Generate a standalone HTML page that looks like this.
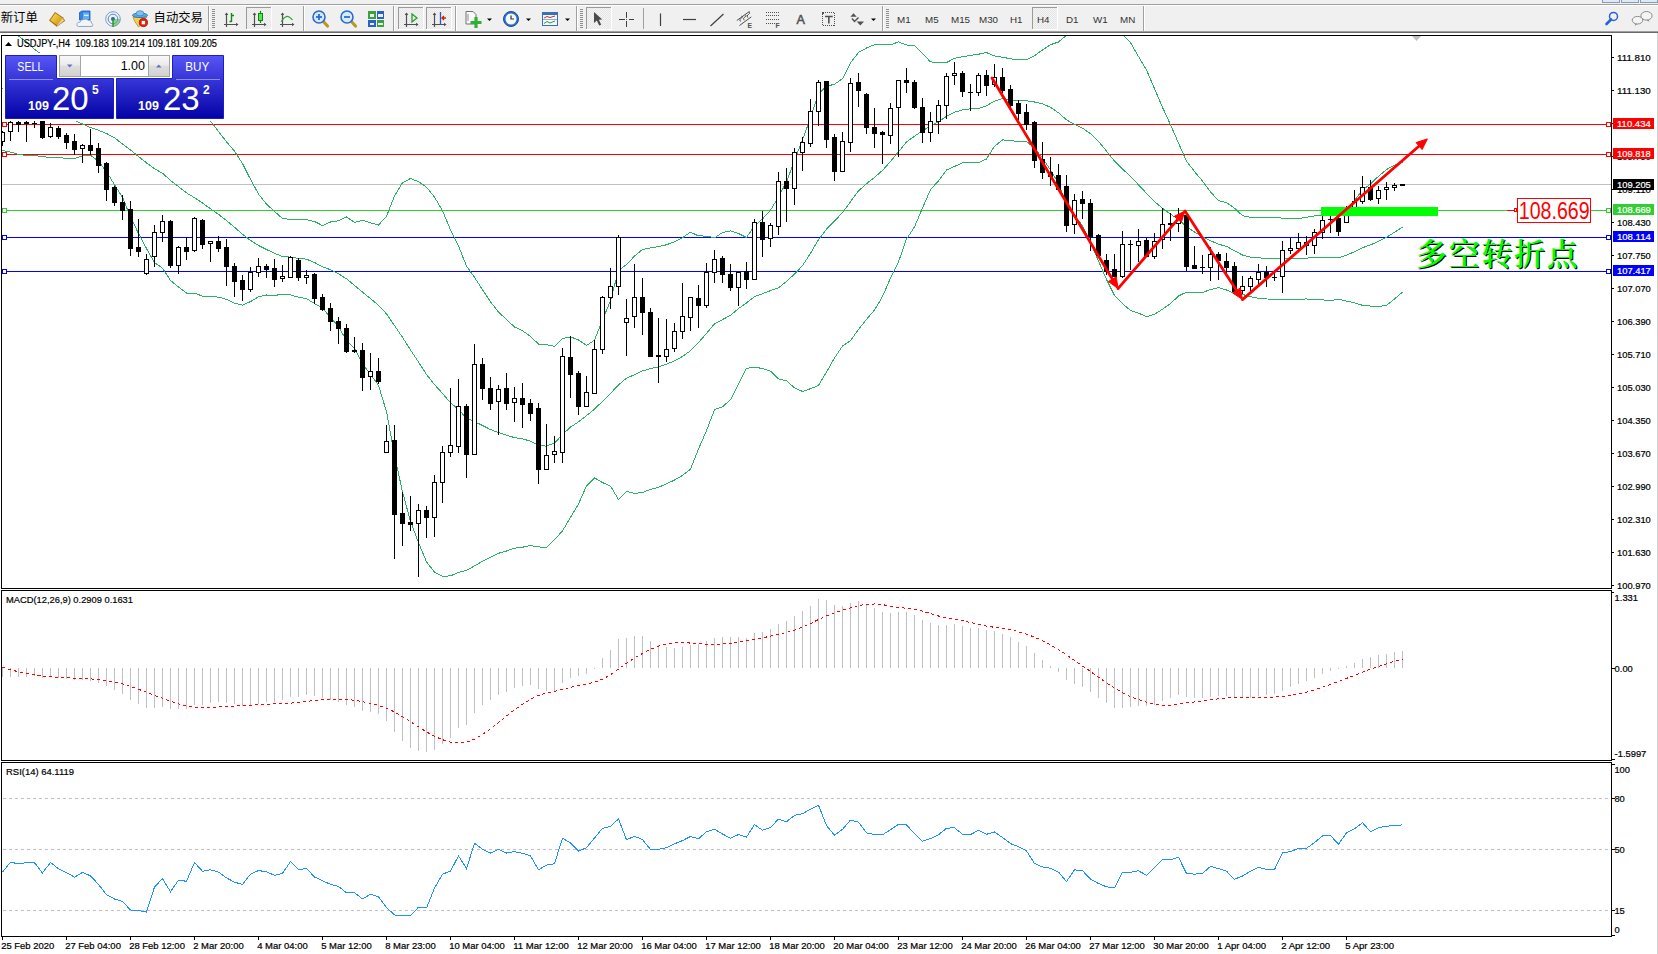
<!DOCTYPE html>
<html><head><meta charset="utf-8"><title>USDJPY,H4</title><style>html,body{margin:0;padding:0;background:#fff;overflow:hidden;width:1658px;height:954px}svg{display:block;position:absolute;left:0;top:0}text{white-space:pre}</style></head><body>
<svg width="1658" height="954" viewBox="0 0 1658 954">
<defs><linearGradient id="gb" x1="0" y1="0" x2="0" y2="1"><stop offset="0" stop-color="#5656f6"/><stop offset="1" stop-color="#0202a6"/></linearGradient><linearGradient id="gbtn" x1="0" y1="0" x2="0" y2="1"><stop offset="0" stop-color="#f8f8f8"/><stop offset="0.45" stop-color="#ebebeb"/><stop offset="0.5" stop-color="#dddddd"/><stop offset="1" stop-color="#d2d2d2"/></linearGradient><pattern id="dith" width="2" height="2" patternUnits="userSpaceOnUse"><rect width="2" height="2" fill="#f4f4f4"/><rect width="1" height="1" fill="#e6e6e6"/><rect x="1" y="1" width="1" height="1" fill="#e6e6e6"/></pattern><clipPath id="cm"><rect x="2" y="36" width="1609" height="552"/></clipPath><clipPath id="cmacd"><rect x="2" y="591" width="1609" height="169"/></clipPath><clipPath id="crsi"><rect x="2" y="763" width="1609" height="173"/></clipPath></defs>
<rect x="0" y="0" width="1658" height="954" fill="#ffffff"/>
<rect x="0" y="0" width="1658" height="31" fill="#f0f0f0"/>
<g shape-rendering="crispEdges">
<rect x="0" y="4" width="1658" height="1" fill="#a0a0a0"/>
<rect x="0" y="5" width="1658" height="1" fill="#ffffff"/>
<rect x="0" y="31" width="1658" height="1" fill="#a0a0a0"/>
<rect x="0" y="32" width="1658" height="1" fill="#6a6a6a"/>
<rect x="1657" y="33" width="1" height="921" fill="#d4d4d4"/>
<rect x="1602.5" y="-2.5" width="17" height="5" fill="#dde9f6" stroke="#8a9bb0"/>
<rect x="1621.5" y="-2.5" width="17" height="5" fill="#dde9f6" stroke="#8a9bb0"/>
<rect x="1640.5" y="-2.5" width="17" height="5" fill="#dde9f6" stroke="#8a9bb0"/>
</g>
<g shape-rendering="crispEdges">
<rect x="208" y="6" width="1" height="25" fill="#a0a0a0"/><rect x="209" y="6" width="1" height="25" fill="#ffffff"/>
<rect x="212" y="9" width="3" height="1" fill="#8e8e8e"/>
<rect x="212" y="11" width="3" height="1" fill="#8e8e8e"/>
<rect x="212" y="13" width="3" height="1" fill="#8e8e8e"/>
<rect x="212" y="15" width="3" height="1" fill="#8e8e8e"/>
<rect x="212" y="17" width="3" height="1" fill="#8e8e8e"/>
<rect x="212" y="19" width="3" height="1" fill="#8e8e8e"/>
<rect x="212" y="21" width="3" height="1" fill="#8e8e8e"/>
<rect x="212" y="23" width="3" height="1" fill="#8e8e8e"/>
<rect x="212" y="25" width="3" height="1" fill="#8e8e8e"/>
<rect x="212" y="27" width="3" height="1" fill="#8e8e8e"/>
<rect x="303" y="6" width="1" height="25" fill="#a0a0a0"/><rect x="304" y="6" width="1" height="25" fill="#ffffff"/>
<rect x="393" y="6" width="1" height="25" fill="#a0a0a0"/><rect x="394" y="6" width="1" height="25" fill="#ffffff"/>
<rect x="455" y="6" width="1" height="25" fill="#a0a0a0"/><rect x="456" y="6" width="1" height="25" fill="#ffffff"/>
<rect x="576" y="6" width="1" height="25" fill="#a0a0a0"/><rect x="577" y="6" width="1" height="25" fill="#ffffff"/>
<rect x="580" y="9" width="3" height="1" fill="#8e8e8e"/>
<rect x="580" y="11" width="3" height="1" fill="#8e8e8e"/>
<rect x="580" y="13" width="3" height="1" fill="#8e8e8e"/>
<rect x="580" y="15" width="3" height="1" fill="#8e8e8e"/>
<rect x="580" y="17" width="3" height="1" fill="#8e8e8e"/>
<rect x="580" y="19" width="3" height="1" fill="#8e8e8e"/>
<rect x="580" y="21" width="3" height="1" fill="#8e8e8e"/>
<rect x="580" y="23" width="3" height="1" fill="#8e8e8e"/>
<rect x="580" y="25" width="3" height="1" fill="#8e8e8e"/>
<rect x="580" y="27" width="3" height="1" fill="#8e8e8e"/>
<rect x="643" y="8" width="1" height="21" fill="#a0a0a0"/>
<rect x="882" y="6" width="1" height="25" fill="#a0a0a0"/><rect x="883" y="6" width="1" height="25" fill="#ffffff"/>
<rect x="886" y="9" width="3" height="1" fill="#8e8e8e"/>
<rect x="886" y="11" width="3" height="1" fill="#8e8e8e"/>
<rect x="886" y="13" width="3" height="1" fill="#8e8e8e"/>
<rect x="886" y="15" width="3" height="1" fill="#8e8e8e"/>
<rect x="886" y="17" width="3" height="1" fill="#8e8e8e"/>
<rect x="886" y="19" width="3" height="1" fill="#8e8e8e"/>
<rect x="886" y="21" width="3" height="1" fill="#8e8e8e"/>
<rect x="886" y="23" width="3" height="1" fill="#8e8e8e"/>
<rect x="886" y="25" width="3" height="1" fill="#8e8e8e"/>
<rect x="886" y="27" width="3" height="1" fill="#8e8e8e"/>
<rect x="1143" y="6" width="1" height="25" fill="#a0a0a0"/><rect x="1144" y="6" width="1" height="25" fill="#ffffff"/>
<rect x="246" y="7" width="25" height="22" fill="url(#dith)"/>
<rect x="246" y="7" width="25" height="1" fill="#9a9a9a"/><rect x="246" y="7" width="1" height="22" fill="#9a9a9a"/>
<rect x="246" y="29" width="26" height="1" fill="#ffffff"/><rect x="271" y="7" width="1" height="23" fill="#ffffff"/>
<rect x="398" y="7" width="25" height="22" fill="url(#dith)"/>
<rect x="398" y="7" width="25" height="1" fill="#9a9a9a"/><rect x="398" y="7" width="1" height="22" fill="#9a9a9a"/>
<rect x="398" y="29" width="26" height="1" fill="#ffffff"/><rect x="423" y="7" width="1" height="23" fill="#ffffff"/>
<rect x="426" y="7" width="25" height="22" fill="url(#dith)"/>
<rect x="426" y="7" width="25" height="1" fill="#9a9a9a"/><rect x="426" y="7" width="1" height="22" fill="#9a9a9a"/>
<rect x="426" y="29" width="26" height="1" fill="#ffffff"/><rect x="451" y="7" width="1" height="23" fill="#ffffff"/>
<rect x="586" y="7" width="25" height="22" fill="url(#dith)"/>
<rect x="586" y="7" width="25" height="1" fill="#9a9a9a"/><rect x="586" y="7" width="1" height="22" fill="#9a9a9a"/>
<rect x="586" y="29" width="26" height="1" fill="#ffffff"/><rect x="611" y="7" width="1" height="23" fill="#ffffff"/>
<rect x="1032" y="7" width="25" height="22" fill="url(#dith)"/>
<rect x="1032" y="7" width="25" height="1" fill="#9a9a9a"/><rect x="1032" y="7" width="1" height="22" fill="#9a9a9a"/>
<rect x="1032" y="29" width="26" height="1" fill="#ffffff"/><rect x="1057" y="7" width="1" height="23" fill="#ffffff"/>
</g>
<text x="0.8" y="22.2" font-family="'Liberation Sans', 'Noto Sans CJK SC', sans-serif" font-size="12.3" fill="#000" text-anchor="start" font-weight="normal" >新订单</text>
<text x="153.6" y="22.2" font-family="'Liberation Sans', 'Noto Sans CJK SC', sans-serif" font-size="12.3" fill="#000" text-anchor="start" font-weight="normal" >自动交易</text>
<text x="897" y="23" font-family="'Liberation Sans', Arial, sans-serif" font-size="9.8" fill="#333333" text-anchor="start" font-weight="normal" >M1</text>
<text x="925" y="23" font-family="'Liberation Sans', Arial, sans-serif" font-size="9.8" fill="#333333" text-anchor="start" font-weight="normal" >M5</text>
<text x="951" y="23" font-family="'Liberation Sans', Arial, sans-serif" font-size="9.8" fill="#333333" text-anchor="start" font-weight="normal" >M15</text>
<text x="979" y="23" font-family="'Liberation Sans', Arial, sans-serif" font-size="9.8" fill="#333333" text-anchor="start" font-weight="normal" >M30</text>
<text x="1010" y="23" font-family="'Liberation Sans', Arial, sans-serif" font-size="9.8" fill="#333333" text-anchor="start" font-weight="normal" >H1</text>
<text x="1037" y="23" font-family="'Liberation Sans', Arial, sans-serif" font-size="9.8" fill="#333333" text-anchor="start" font-weight="normal" >H4</text>
<text x="1066" y="23" font-family="'Liberation Sans', Arial, sans-serif" font-size="9.8" fill="#333333" text-anchor="start" font-weight="normal" >D1</text>
<text x="1093" y="23" font-family="'Liberation Sans', Arial, sans-serif" font-size="9.8" fill="#333333" text-anchor="start" font-weight="normal" >W1</text>
<text x="1120" y="23" font-family="'Liberation Sans', Arial, sans-serif" font-size="9.8" fill="#333333" text-anchor="start" font-weight="normal" >MN</text>
<defs><linearGradient id="gbook" x1="0" y1="0" x2="1" y2="1"><stop offset="0" stop-color="#f8e070"/><stop offset="0.6" stop-color="#e0b020"/><stop offset="1" stop-color="#c08a10"/></linearGradient></defs><path d="M49 20.4 L55 12 L62.8 17.2 L65.2 20.8 L56.8 26.8 Z" fill="#a86e14"/><path d="M50.3 20.2 L55.3 13.2 L62.3 18 L57.2 25.2 Z" fill="url(#gbook)"/><path d="M57.2 25.2 L62.3 18 L64.2 20.6 L57.4 26 Z" fill="#e8cf98"/>
<g><path d="M79.5 12.5 L82 11 L90 11 L90 20 L79.5 20 Z" fill="#2f86e6" stroke="#1a5cb0" stroke-width="0.8"/><rect x="83" y="12.5" width="6" height="6.5" fill="#63b0f8"/><rect x="84" y="14.8" width="4.5" height="1" fill="#ffffff"/><path d="M78.5 26.5 Q76.2 26.3 77 23.6 Q77.8 21.7 80 22.2 Q80.5 19.3 83.8 19.4 Q86.2 18.2 88.3 20.3 Q91.7 20.2 91.6 23 Q93.6 24.2 92.2 26.4 Z" fill="#f2f5fa" stroke="#8a9cb8" stroke-width="0.9"/></g>
<g transform="translate(105,11)" fill="none"><circle cx="8" cy="8" r="7.3" stroke="#7aa0d8" stroke-width="1"/><circle cx="8" cy="8" r="4.8" stroke="#5a88d0" stroke-width="1"/><circle cx="8" cy="8" r="2" fill="#2a60c0"/><path d="M8 8 L8 15.5 A7.5 7.5 0 0 0 15.5 8" fill="#50b050" fill-opacity="0.55"/><path d="M8 8 L8 16" stroke="#20a020" stroke-width="1.5"/></g>
<g><path d="M133 17 L146.5 17 L142 24 L138.5 27 L134.5 21 Z" fill="#f0d050" stroke="#b89020" stroke-width="0.8"/><ellipse cx="140" cy="15.3" rx="7.6" ry="2.3" fill="#5aa8e6" stroke="#2a70b0" stroke-width="0.8"/><ellipse cx="140" cy="13.3" rx="3.9" ry="2.6" fill="#7cc2f2" stroke="#2a70b0" stroke-width="0.6"/><circle cx="143.4" cy="22.6" r="4.1" fill="#e02010" stroke="#a01000" stroke-width="0.8"/><rect x="141.7" y="20.9" width="3.4" height="3.4" fill="#ffffff"/></g>
<path d="M226.5 13 L226.5 27 M224 24.5 L237 24.5" stroke="#505050" stroke-width="1.2" fill="none"/><path d="M224.7 15 L226.5 12.5 L228.3 15 Z M236 22.7 L238.5 24.5 L236 26.3 Z" fill="#505050"/><path d="M231.5 13 L231.5 22 M229.5 21.5 L231.5 21.5 M231.5 15.5 L234 15.5" stroke="#108a10" stroke-width="1.4" fill="none"/>
<path d="M254.5 13 L254.5 27 M252 24.5 L265 24.5" stroke="#505050" stroke-width="1.2" fill="none"/><path d="M252.7 15 L254.5 12.5 L256.3 15 Z M264 22.7 L266.5 24.5 L264 26.3 Z" fill="#505050"/><path d="M260.5 11 L260.5 23" stroke="#0a8a0a" stroke-width="1.2"/><rect x="258.5" y="13.5" width="4" height="7" fill="#60e060" stroke="#0a8a0a"/>
<path d="M282.5 13 L282.5 27 M280 24.5 L293 24.5" stroke="#505050" stroke-width="1.2" fill="none"/><path d="M280.7 15 L282.5 12.5 L284.3 15 Z M292 22.7 L294.5 24.5 L292 26.3 Z" fill="#505050"/><path d="M281.3 21.6 Q284 17 287 16.3 Q289 16 292.5 19.9" stroke="#30a030" stroke-width="1.2" fill="none"/>
<path d="M322 20 L327.5 26" stroke="#b89a20" stroke-width="3.2" stroke-linecap="round"/><circle cx="319" cy="17" r="6" fill="#d6eaff" stroke="#2a6ad0" stroke-width="1.6"/><path d="M316 17 L322 17" stroke="#2a6ad0" stroke-width="1.8"/><path d="M319 14 L319 20" stroke="#2a6ad0" stroke-width="1.8"/>
<path d="M350 20 L355.5 26" stroke="#b89a20" stroke-width="3.2" stroke-linecap="round"/><circle cx="347" cy="17" r="6" fill="#d6eaff" stroke="#2a6ad0" stroke-width="1.6"/><path d="M344 17 L350 17" stroke="#2a6ad0" stroke-width="1.8"/>
<g shape-rendering="crispEdges"><rect x="368" y="11" width="7.5" height="7.5" fill="#40a040"/><rect x="376.5" y="11" width="7.5" height="7.5" fill="#2a60c8"/><rect x="368" y="19.5" width="7.5" height="7.5" fill="#2a60c8"/><rect x="376.5" y="19.5" width="7.5" height="7.5" fill="#40a040"/><rect x="369.5" y="14" width="4.5" height="2.5" fill="#e8f4e8"/><rect x="378" y="14" width="4.5" height="2.5" fill="#e8f0ff"/><rect x="369.5" y="22.5" width="4.5" height="2.5" fill="#e8f0ff"/><rect x="378" y="22.5" width="4.5" height="2.5" fill="#e8f4e8"/></g>
<path d="M406.5 13 L406.5 27 M404 24.5 L417 24.5" stroke="#505050" stroke-width="1.2" fill="none"/><path d="M404.7 15 L406.5 12.5 L408.3 15 Z M416 22.7 L418.5 24.5 L416 26.3 Z" fill="#505050"/><path d="M412 14 L417 18 L412 22 Z" fill="none" stroke="#20a020" stroke-width="1.3"/>
<path d="M434.5 13 L434.5 27 M432 24.5 L445 24.5" stroke="#505050" stroke-width="1.2" fill="none"/><path d="M432.7 15 L434.5 12.5 L436.3 15 Z M444 22.7 L446.5 24.5 L444 26.3 Z" fill="#505050"/><path d="M440.5 12 L440.5 25" stroke="#2a5ab0" stroke-width="1.3"/><path d="M446 18 L442 18 M444 16 L442 18 L444 20" stroke="#d02000" stroke-width="1.3" fill="none"/>
<g><path d="M466 11.5 L473 11.5 L476 14.5 L476 24 L466 24 Z" fill="#f8f8f8" stroke="#707070"/><path d="M468 14 L468 21" stroke="#909090"/><path d="M476 17 L476 28 M470.5 22.5 L481.5 22.5" stroke="#30b030" stroke-width="3.2"/></g>
<path d="M487 18.5 L492 18.5 L489.5 21 Z" fill="#000"/>
<g><circle cx="511" cy="19" r="7.5" fill="#2a70d0" stroke="#1a4a9a"/><circle cx="511" cy="19" r="5.5" fill="#f4f8ff"/><path d="M511 15.5 L511 19 L514 19" stroke="#303030" stroke-width="1.2" fill="none"/></g>
<path d="M526 18.5 L531 18.5 L528.5 21 Z" fill="#000"/>
<g shape-rendering="crispEdges"><rect x="542.5" y="12.5" width="15" height="13" fill="#f4f8fc" stroke="#3a70b8"/><rect x="543" y="13" width="14" height="2" fill="#3a70b8"/><rect x="543" y="19" width="14" height="1" fill="#90b0d8"/></g><path d="M544 18 L547 16.5 L550 17.5 L555 16" stroke="#c03030" fill="none"/><path d="M544 23.5 L547 21.5 L550 23 L555 21" stroke="#30a030" fill="none"/>
<path d="M565 18.5 L570 18.5 L567.5 21 Z" fill="#000"/>
<path d="M594 12 L594 23 L596.8 20.6 L599.2 25.6 L601.2 24.7 L598.9 19.8 L602.3 19.6 Z" fill="#4a4a4a"/>
<path d="M626.5 12 L626.5 17.5 M626.5 21 L626.5 27 M619 19.5 L624.5 19.5 M628.5 19.5 L634 19.5" stroke="#404040" stroke-width="1" fill="none" shape-rendering="crispEdges"/><rect x="626" y="19" width="1" height="1" fill="#606060"/>
<path d="M660.5 13.5 L660.5 26" stroke="#404040" stroke-width="1.2"/>
<path d="M683 19.5 L696 19.5" stroke="#404040" stroke-width="1.2"/>
<path d="M710.5 26 L723.5 14" stroke="#404040" stroke-width="1.2"/>
<path d="M736.8 20.5 L749.5 11.4 M739.5 25.5 L751.3 16.9 M740.5 21.5 Q738.8 19.8 741 18.5 Q743.2 17.2 741.8 15.8 M744.2 20.2 Q742.5 18.5 744.7 17.2 Q746.9 15.9 745.5 14.5 M747.8 17.6 Q746.1 15.9 748.3 14.6 Q750.5 13.3 749.1 11.9" stroke="#505050" stroke-width="1" fill="none"/><text x="747.4" y="27.8" font-family="'Liberation Sans', Arial, sans-serif" font-size="6.8" fill="#505050" text-anchor="start" font-weight="bold" >E</text>
<path d="M766 12.5 L779 12.5 M766 15.5 L779 15.5 M766 19.5 L779 19.5 M766 23.5 L775 23.5" stroke="#505050" stroke-width="1" stroke-dasharray="1,1" fill="none" shape-rendering="crispEdges"/><text x="775.5" y="27.8" font-family="'Liberation Sans', Arial, sans-serif" font-size="6.8" fill="#505050" text-anchor="start" font-weight="bold" >F</text>
<text x="796.6" y="24.1" font-family="'Liberation Sans', Arial, sans-serif" font-size="12.6" fill="#505050" text-anchor="start" font-weight="normal" stroke="#505050" stroke-width="0.5">A</text>
<rect x="822.5" y="12.5" width="12" height="13" fill="none" stroke="#505050" stroke-dasharray="1,1" shape-rendering="crispEdges"/><rect x="822" y="12" width="2" height="2" fill="#505050"/><path d="M825 16.5 L832.7 16.5 M828.85 16.5 L828.85 23.6" stroke="#505050" stroke-width="1.6" fill="none"/>
<path d="M850.4 16.8 L853.5 13.2 L856.7 16.8 Z" fill="#505050"/><path d="M852 18.5 L854.5 21.5 L858.5 17.5" stroke="#505050" stroke-width="1.5" fill="none"/><path d="M856.7 21.4 L864 21.4 L860.3 25.5 Z" fill="#505050"/>
<path d="M871 18.5 L876 18.5 L873.5 21 Z" fill="#000"/>
<g fill="none"><circle cx="1613.5" cy="16.4" r="4" stroke="#2a62d8" stroke-width="1.5"/><path d="M1611 19.5 L1606.5 24" stroke="#2a62d8" stroke-width="2.6" stroke-linecap="round"/></g>
<g><ellipse cx="1646.5" cy="15.8" rx="5.6" ry="4.3" fill="#f4f4f6" stroke="#8a8a8a"/><path d="M1648.5 19.8 L1649.5 22 L1646.5 20" fill="#8a8a8a"/><ellipse cx="1637.5" cy="20.2" rx="5.3" ry="3.8" fill="#f4f4f6" stroke="#8a8a8a"/><path d="M1635.5 23.8 L1634.5 26 L1637.5 24" fill="#8a8a8a"/></g>
<g shape-rendering="crispEdges" fill="none" stroke="#000">
<rect x="1.5" y="35.5" width="1610" height="553"/>
<rect x="1.5" y="590.5" width="1610" height="170"/>
<rect x="1.5" y="762.5" width="1610" height="174"/>
</g>
<g clip-path="url(#cm)">
<g shape-rendering="crispEdges">
<rect x="2" y="184" width="1609" height="1" fill="#c0c0c0"/>
<rect x="2" y="124" width="1609" height="1" fill="#ff0000"/><rect x="2.5" y="122.5" width="4" height="4" fill="#fff" stroke="#ff0000"/><rect x="1606.5" y="122.5" width="4" height="4" fill="#fff" stroke="#ff0000"/>
<rect x="2" y="154" width="1609" height="1" fill="#ff0000"/><rect x="2.5" y="152.5" width="4" height="4" fill="#fff" stroke="#ff0000"/><rect x="1606.5" y="152.5" width="4" height="4" fill="#fff" stroke="#ff0000"/>
<rect x="2" y="210" width="1609" height="1" fill="#32cd32"/><rect x="2.5" y="208.5" width="4" height="4" fill="#fff" stroke="#32cd32"/><rect x="1606.5" y="208.5" width="4" height="4" fill="#fff" stroke="#32cd32"/>
<rect x="2" y="237" width="1609" height="1" fill="#0000ff"/><rect x="2.5" y="235.5" width="4" height="4" fill="#fff" stroke="#0000ff"/><rect x="1606.5" y="235.5" width="4" height="4" fill="#fff" stroke="#0000ff"/>
<rect x="2" y="271" width="1609" height="1" fill="#0000ff"/><rect x="2.5" y="269.5" width="4" height="4" fill="#fff" stroke="#0000ff"/><rect x="1606.5" y="269.5" width="4" height="4" fill="#fff" stroke="#0000ff"/>
</g>
<polyline points="2.5,25.6 10.5,31.0 18.5,36.1 26.5,42.0 34.5,49.2 42.5,55.2 50.5,61.6 58.5,68.7 66.5,74.9 74.5,82.1 82.5,92.2 90.5,99.8 98.5,99.1 106.5,95.5 114.5,90.8 122.5,90.7 130.5,83.0 138.5,79.5 146.5,77.3 154.5,75.0 162.5,78.3 170.5,80.4 178.5,86.0 186.5,92.9 194.5,102.4 202.5,109.9 210.5,121.0 218.5,131.6 226.5,141.8 234.5,151.2 242.5,163.6 250.5,179.3 258.5,194.1 266.5,204.0 274.5,211.5 282.5,218.6 290.5,219.3 298.5,219.6 306.5,219.7 314.5,221.5 322.5,225.6 330.5,222.0 338.5,220.8 346.5,217.0 354.5,222.4 362.5,220.3 370.5,222.8 378.5,225.0 386.5,216.3 394.5,195.9 402.5,182.8 410.5,178.5 418.5,181.6 426.5,187.2 434.5,197.1 442.5,210.6 450.5,229.8 458.5,246.1 466.5,266.1 474.5,277.3 482.5,289.7 490.5,301.8 498.5,312.0 506.5,319.5 514.5,327.0 522.5,330.7 530.5,336.5 538.5,344.0 546.5,344.6 554.5,346.3 562.5,338.4 570.5,336.9 578.5,339.9 586.5,345.5 594.5,340.2 602.5,320.0 610.5,300.6 618.5,270.3 626.5,264.7 634.5,256.1 642.5,249.4 650.5,247.9 658.5,246.5 666.5,244.8 674.5,241.7 682.5,237.6 690.5,232.2 698.5,235.9 706.5,236.1 714.5,237.8 722.5,232.5 730.5,230.9 738.5,233.5 746.5,237.5 754.5,226.0 762.5,218.9 770.5,210.2 778.5,196.9 786.5,181.9 794.5,160.3 802.5,139.8 810.5,118.0 818.5,93.8 826.5,86.2 834.5,84.3 842.5,78.7 850.5,62.8 858.5,52.5 866.5,48.0 874.5,44.7 882.5,44.3 890.5,44.8 898.5,41.9 906.5,45.0 914.5,45.6 922.5,53.7 930.5,61.8 938.5,62.9 946.5,62.6 954.5,58.2 962.5,56.8 970.5,55.3 978.5,54.2 986.5,52.6 994.5,55.9 1002.5,57.2 1010.5,58.8 1018.5,59.8 1026.5,60.0 1034.5,55.7 1042.5,49.9 1050.5,44.7 1058.5,42.0 1066.5,35.3 1074.5,33.2 1082.5,30.5 1090.5,25.5 1098.5,21.7 1106.5,22.7 1114.5,27.1 1122.5,34.0 1130.5,42.6 1138.5,56.5 1146.5,70.0 1154.5,88.7 1162.5,107.3 1170.5,124.8 1178.5,143.0 1186.5,161.1 1194.5,171.6 1202.5,181.0 1210.5,191.8 1218.5,200.7 1226.5,202.6 1234.5,208.2 1242.5,215.6 1250.5,217.4 1258.5,217.7 1266.5,217.5 1274.5,217.5 1282.5,218.1 1290.5,218.5 1298.5,218.6 1306.5,217.3 1314.5,216.0 1322.5,215.1 1330.5,214.0 1338.5,216.4 1346.5,209.0 1354.5,200.6 1362.5,190.1 1370.5,183.8 1378.5,176.3 1386.5,169.5 1394.5,165.3 1402.5,162.0" fill="none" stroke="#2cb068" stroke-width="1" shape-rendering="crispEdges"/>
<polyline points="2.5,88.0 10.5,91.6 18.5,95.2 26.5,98.8 34.5,102.4 42.5,105.9 50.5,109.5 58.5,113.1 66.5,116.7 74.5,120.3 82.5,124.0 90.5,127.5 98.5,130.3 106.5,133.5 114.5,137.8 122.5,144.0 130.5,150.0 138.5,156.5 146.5,162.9 154.5,168.8 162.5,173.2 170.5,180.4 178.5,186.6 186.5,192.9 194.5,197.7 202.5,203.1 210.5,208.8 218.5,214.3 226.5,220.6 234.5,227.2 242.5,234.3 250.5,240.4 258.5,245.5 266.5,249.5 274.5,253.3 282.5,256.6 290.5,257.1 298.5,258.4 306.5,259.2 314.5,262.5 322.5,266.9 330.5,269.7 338.5,273.8 346.5,278.8 354.5,285.4 362.5,292.1 370.5,298.6 378.5,305.2 386.5,313.9 394.5,325.6 402.5,337.3 410.5,349.9 418.5,362.1 426.5,374.5 434.5,384.6 442.5,393.4 450.5,402.9 458.5,409.3 466.5,418.2 474.5,421.6 482.5,425.5 490.5,429.6 498.5,432.6 506.5,435.2 514.5,437.6 522.5,438.9 530.5,441.1 538.5,445.4 546.5,446.1 554.5,443.0 562.5,434.6 570.5,427.1 578.5,421.9 586.5,415.7 594.5,409.1 602.5,401.3 610.5,393.4 618.5,384.9 626.5,378.1 634.5,374.8 642.5,370.9 650.5,368.6 658.5,366.9 666.5,364.2 674.5,360.9 682.5,356.5 690.5,350.7 698.5,342.5 706.5,333.4 714.5,323.8 722.5,319.6 730.5,315.3 738.5,308.6 746.5,302.9 754.5,296.6 762.5,293.7 770.5,290.6 778.5,287.9 786.5,281.4 794.5,274.1 802.5,265.6 810.5,253.3 818.5,239.7 826.5,229.2 834.5,221.2 842.5,212.4 850.5,201.7 858.5,190.9 866.5,183.7 874.5,177.4 882.5,170.4 890.5,161.4 898.5,151.8 906.5,142.0 914.5,136.2 922.5,130.9 930.5,125.7 938.5,121.9 946.5,116.3 954.5,112.3 962.5,109.8 970.5,108.8 978.5,108.5 986.5,105.8 994.5,101.1 1002.5,98.5 1010.5,99.7 1018.5,100.8 1026.5,100.7 1034.5,102.0 1042.5,103.9 1050.5,107.3 1058.5,112.8 1066.5,119.9 1074.5,124.5 1082.5,128.1 1090.5,133.8 1098.5,141.3 1106.5,151.1 1114.5,161.2 1122.5,168.9 1130.5,176.5 1138.5,184.8 1146.5,193.3 1154.5,201.6 1162.5,208.2 1170.5,214.2 1178.5,219.5 1186.5,226.6 1194.5,232.0 1202.5,236.8 1210.5,240.7 1218.5,244.2 1226.5,246.3 1234.5,250.8 1242.5,255.0 1250.5,257.1 1258.5,257.9 1266.5,258.2 1274.5,258.3 1282.5,258.6 1290.5,258.8 1298.5,258.9 1306.5,258.1 1314.5,257.7 1322.5,257.5 1330.5,257.2 1338.5,257.9 1346.5,255.1 1354.5,251.7 1362.5,247.7 1370.5,244.9 1378.5,241.4 1386.5,237.4 1394.5,232.2 1402.5,227.1" fill="none" stroke="#2cb068" stroke-width="1" shape-rendering="crispEdges"/>
<polyline points="2.5,150.4 10.5,152.2 18.5,154.3 26.5,155.5 34.5,155.5 42.5,156.7 50.5,157.5 58.5,157.5 66.5,158.5 74.5,158.5 82.5,155.8 90.5,155.2 98.5,161.5 106.5,171.5 114.5,184.8 122.5,197.3 130.5,217.0 138.5,233.5 146.5,248.5 154.5,262.6 162.5,268.2 170.5,280.4 178.5,287.1 186.5,293.0 194.5,293.0 202.5,296.2 210.5,296.5 218.5,297.1 226.5,299.3 234.5,303.1 242.5,305.1 250.5,301.6 258.5,296.9 266.5,295.0 274.5,295.2 282.5,294.7 290.5,294.9 298.5,297.2 306.5,298.7 314.5,303.5 322.5,308.2 330.5,317.4 338.5,326.7 346.5,340.5 354.5,348.4 362.5,363.8 370.5,374.3 378.5,385.4 386.5,411.6 394.5,455.3 402.5,491.8 410.5,521.3 418.5,542.6 426.5,561.8 434.5,572.2 442.5,576.3 450.5,575.9 458.5,572.5 466.5,570.4 474.5,565.8 482.5,561.3 490.5,557.4 498.5,553.3 506.5,551.0 514.5,548.2 522.5,547.2 530.5,545.6 538.5,546.9 546.5,547.7 554.5,539.7 562.5,530.9 570.5,517.4 578.5,504.0 586.5,485.9 594.5,477.9 602.5,482.6 610.5,486.1 618.5,499.5 626.5,491.5 634.5,493.4 642.5,492.5 650.5,489.3 658.5,487.4 666.5,483.7 674.5,480.1 682.5,475.4 690.5,469.2 698.5,449.1 706.5,430.6 714.5,409.7 722.5,406.8 730.5,399.7 738.5,383.7 746.5,368.4 754.5,367.2 762.5,368.5 770.5,371.1 778.5,378.8 786.5,380.8 794.5,387.9 802.5,391.4 810.5,388.7 818.5,385.5 826.5,372.1 834.5,358.0 842.5,346.1 850.5,340.6 858.5,329.4 866.5,319.4 874.5,310.1 882.5,296.5 890.5,278.1 898.5,261.8 906.5,239.0 914.5,226.9 922.5,208.1 930.5,189.6 938.5,180.9 946.5,170.0 954.5,166.5 962.5,162.8 970.5,162.4 978.5,162.8 986.5,159.0 994.5,146.3 1002.5,139.9 1010.5,140.5 1018.5,141.8 1026.5,141.3 1034.5,148.3 1042.5,157.9 1050.5,169.9 1058.5,183.5 1066.5,204.5 1074.5,215.9 1082.5,225.7 1090.5,242.2 1098.5,261.0 1106.5,279.5 1114.5,295.4 1122.5,303.8 1130.5,310.4 1138.5,313.1 1146.5,316.7 1154.5,314.4 1162.5,309.2 1170.5,303.6 1178.5,296.0 1186.5,292.1 1194.5,292.4 1202.5,292.5 1210.5,289.5 1218.5,287.7 1226.5,290.0 1234.5,293.5 1242.5,294.4 1250.5,296.8 1258.5,298.2 1266.5,299.0 1274.5,299.1 1282.5,299.1 1290.5,299.1 1298.5,299.1 1306.5,299.0 1314.5,299.4 1322.5,299.9 1330.5,300.5 1338.5,299.3 1346.5,301.1 1354.5,302.8 1362.5,305.3 1370.5,306.1 1378.5,306.6 1386.5,305.4 1394.5,299.0 1402.5,292.1" fill="none" stroke="#2cb068" stroke-width="1" shape-rendering="crispEdges"/>
<g shape-rendering="crispEdges">
<rect x="2" y="131" width="1" height="15" fill="#000"/><rect x="0" y="132" width="5" height="10" fill="#000"/><rect x="1" y="133" width="3" height="8" fill="#fff"/>
<rect x="10" y="121" width="1" height="20" fill="#000"/><rect x="8" y="122" width="5" height="10" fill="#000"/><rect x="9" y="123" width="3" height="8" fill="#fff"/>
<rect x="18" y="121" width="1" height="11" fill="#000"/><rect x="16" y="122" width="5" height="3" fill="#000"/>
<rect x="26" y="121" width="1" height="21" fill="#000"/><rect x="24" y="122" width="5" height="2" fill="#000"/>
<rect x="34" y="121" width="1" height="7" fill="#000"/><rect x="32" y="123" width="5" height="1" fill="#000"/>
<rect x="42" y="121" width="1" height="18" fill="#000"/><rect x="40" y="121" width="5" height="17" fill="#000"/>
<rect x="50" y="123" width="1" height="15" fill="#000"/><rect x="48" y="127" width="5" height="10" fill="#000"/><rect x="49" y="128" width="3" height="8" fill="#fff"/>
<rect x="58" y="126" width="1" height="13" fill="#000"/><rect x="56" y="128" width="5" height="9" fill="#000"/>
<rect x="66" y="133" width="1" height="16" fill="#000"/><rect x="64" y="135" width="5" height="8" fill="#000"/>
<rect x="74" y="134" width="1" height="21" fill="#000"/><rect x="72" y="141" width="5" height="9" fill="#000"/>
<rect x="82" y="144" width="1" height="19" fill="#000"/><rect x="80" y="145" width="5" height="4" fill="#000"/><rect x="81" y="146" width="3" height="2" fill="#fff"/>
<rect x="90" y="129" width="1" height="26" fill="#000"/><rect x="88" y="145" width="5" height="6" fill="#000"/>
<rect x="98" y="143" width="1" height="30" fill="#000"/><rect x="96" y="148" width="5" height="18" fill="#000"/>
<rect x="106" y="162" width="1" height="39" fill="#000"/><rect x="104" y="163" width="5" height="27" fill="#000"/>
<rect x="114" y="186" width="1" height="20" fill="#000"/><rect x="112" y="187" width="5" height="16" fill="#000"/>
<rect x="122" y="195" width="1" height="25" fill="#000"/><rect x="120" y="202" width="5" height="9" fill="#000"/>
<rect x="130" y="201" width="1" height="55" fill="#000"/><rect x="128" y="209" width="5" height="40" fill="#000"/>
<rect x="138" y="219" width="1" height="38" fill="#000"/><rect x="136" y="247" width="5" height="5" fill="#000"/>
<rect x="146" y="254" width="1" height="21" fill="#000"/><rect x="144" y="259" width="5" height="15" fill="#000"/><rect x="145" y="260" width="3" height="13" fill="#fff"/>
<rect x="154" y="225" width="1" height="42" fill="#000"/><rect x="152" y="232" width="5" height="25" fill="#000"/><rect x="153" y="233" width="3" height="23" fill="#fff"/>
<rect x="162" y="215" width="1" height="27" fill="#000"/><rect x="160" y="221" width="5" height="12" fill="#000"/><rect x="161" y="222" width="3" height="10" fill="#fff"/>
<rect x="170" y="220" width="1" height="48" fill="#000"/><rect x="168" y="221" width="5" height="45" fill="#000"/>
<rect x="178" y="246" width="1" height="28" fill="#000"/><rect x="176" y="247" width="5" height="19" fill="#000"/><rect x="177" y="248" width="3" height="17" fill="#fff"/>
<rect x="186" y="237" width="1" height="23" fill="#000"/><rect x="184" y="247" width="5" height="5" fill="#000"/>
<rect x="194" y="217" width="1" height="35" fill="#000"/><rect x="192" y="218" width="5" height="33" fill="#000"/><rect x="193" y="219" width="3" height="31" fill="#fff"/>
<rect x="202" y="219" width="1" height="30" fill="#000"/><rect x="200" y="220" width="5" height="25" fill="#000"/>
<rect x="210" y="241" width="1" height="21" fill="#000"/><rect x="208" y="241" width="5" height="3" fill="#000"/><rect x="209" y="242" width="3" height="1" fill="#fff"/>
<rect x="218" y="236" width="1" height="16" fill="#000"/><rect x="216" y="241" width="5" height="8" fill="#000"/>
<rect x="226" y="239" width="1" height="47" fill="#000"/><rect x="224" y="247" width="5" height="20" fill="#000"/>
<rect x="234" y="263" width="1" height="34" fill="#000"/><rect x="232" y="266" width="5" height="16" fill="#000"/>
<rect x="242" y="275" width="1" height="26" fill="#000"/><rect x="240" y="280" width="5" height="10" fill="#000"/>
<rect x="250" y="267" width="1" height="25" fill="#000"/><rect x="248" y="272" width="5" height="18" fill="#000"/><rect x="249" y="273" width="3" height="16" fill="#fff"/>
<rect x="258" y="258" width="1" height="19" fill="#000"/><rect x="256" y="266" width="5" height="7" fill="#000"/><rect x="257" y="267" width="3" height="5" fill="#fff"/>
<rect x="266" y="264" width="1" height="14" fill="#000"/><rect x="264" y="266" width="5" height="4" fill="#000"/>
<rect x="274" y="259" width="1" height="28" fill="#000"/><rect x="272" y="268" width="5" height="12" fill="#000"/>
<rect x="282" y="265" width="1" height="17" fill="#000"/><rect x="280" y="276" width="5" height="3" fill="#000"/><rect x="281" y="277" width="3" height="1" fill="#fff"/>
<rect x="290" y="256" width="1" height="22" fill="#000"/><rect x="288" y="257" width="5" height="21" fill="#000"/><rect x="289" y="258" width="3" height="19" fill="#fff"/>
<rect x="298" y="258" width="1" height="23" fill="#000"/><rect x="296" y="260" width="5" height="18" fill="#000"/>
<rect x="306" y="270" width="1" height="14" fill="#000"/><rect x="304" y="275" width="5" height="3" fill="#000"/><rect x="305" y="276" width="3" height="1" fill="#fff"/>
<rect x="314" y="273" width="1" height="31" fill="#000"/><rect x="312" y="274" width="5" height="25" fill="#000"/>
<rect x="322" y="294" width="1" height="17" fill="#000"/><rect x="320" y="297" width="5" height="13" fill="#000"/>
<rect x="330" y="303" width="1" height="28" fill="#000"/><rect x="328" y="308" width="5" height="14" fill="#000"/>
<rect x="338" y="317" width="1" height="27" fill="#000"/><rect x="336" y="321" width="5" height="8" fill="#000"/>
<rect x="346" y="324" width="1" height="29" fill="#000"/><rect x="344" y="328" width="5" height="24" fill="#000"/>
<rect x="354" y="337" width="1" height="16" fill="#000"/><rect x="352" y="350" width="5" height="2" fill="#000"/>
<rect x="362" y="343" width="1" height="48" fill="#000"/><rect x="360" y="350" width="5" height="28" fill="#000"/>
<rect x="370" y="353" width="1" height="37" fill="#000"/><rect x="368" y="371" width="5" height="6" fill="#000"/><rect x="369" y="372" width="3" height="4" fill="#fff"/>
<rect x="378" y="358" width="1" height="26" fill="#000"/><rect x="376" y="371" width="5" height="11" fill="#000"/>
<rect x="386" y="425" width="1" height="28" fill="#000"/><rect x="384" y="441" width="5" height="12" fill="#000"/><rect x="385" y="442" width="3" height="10" fill="#fff"/>
<rect x="394" y="425" width="1" height="134" fill="#000"/><rect x="392" y="440" width="5" height="75" fill="#000"/>
<rect x="402" y="492" width="1" height="54" fill="#000"/><rect x="400" y="513" width="5" height="11" fill="#000"/>
<rect x="410" y="496" width="1" height="35" fill="#000"/><rect x="408" y="522" width="5" height="3" fill="#000"/>
<rect x="418" y="504" width="1" height="73" fill="#000"/><rect x="416" y="510" width="5" height="14" fill="#000"/><rect x="417" y="511" width="3" height="12" fill="#fff"/>
<rect x="426" y="506" width="1" height="32" fill="#000"/><rect x="424" y="510" width="5" height="8" fill="#000"/>
<rect x="434" y="475" width="1" height="62" fill="#000"/><rect x="432" y="482" width="5" height="36" fill="#000"/><rect x="433" y="483" width="3" height="34" fill="#fff"/>
<rect x="442" y="446" width="1" height="57" fill="#000"/><rect x="440" y="452" width="5" height="31" fill="#000"/><rect x="441" y="453" width="3" height="29" fill="#fff"/>
<rect x="450" y="388" width="1" height="69" fill="#000"/><rect x="448" y="445" width="5" height="8" fill="#000"/><rect x="449" y="446" width="3" height="6" fill="#fff"/>
<rect x="458" y="379" width="1" height="74" fill="#000"/><rect x="456" y="406" width="5" height="41" fill="#000"/><rect x="457" y="407" width="3" height="39" fill="#fff"/>
<rect x="466" y="404" width="1" height="74" fill="#000"/><rect x="464" y="406" width="5" height="49" fill="#000"/>
<rect x="474" y="344" width="1" height="111" fill="#000"/><rect x="472" y="364" width="5" height="91" fill="#000"/><rect x="473" y="365" width="3" height="89" fill="#fff"/>
<rect x="482" y="358" width="1" height="42" fill="#000"/><rect x="480" y="364" width="5" height="25" fill="#000"/>
<rect x="490" y="377" width="1" height="33" fill="#000"/><rect x="488" y="388" width="5" height="16" fill="#000"/>
<rect x="498" y="385" width="1" height="50" fill="#000"/><rect x="496" y="389" width="5" height="13" fill="#000"/><rect x="497" y="390" width="3" height="11" fill="#fff"/>
<rect x="506" y="373" width="1" height="37" fill="#000"/><rect x="504" y="388" width="5" height="16" fill="#000"/>
<rect x="514" y="387" width="1" height="35" fill="#000"/><rect x="512" y="398" width="5" height="5" fill="#000"/><rect x="513" y="399" width="3" height="3" fill="#fff"/>
<rect x="522" y="383" width="1" height="45" fill="#000"/><rect x="520" y="398" width="5" height="7" fill="#000"/>
<rect x="530" y="399" width="1" height="22" fill="#000"/><rect x="528" y="403" width="5" height="11" fill="#000"/>
<rect x="538" y="403" width="1" height="81" fill="#000"/><rect x="536" y="408" width="5" height="62" fill="#000"/>
<rect x="546" y="424" width="1" height="46" fill="#000"/><rect x="544" y="455" width="5" height="15" fill="#000"/><rect x="545" y="456" width="3" height="13" fill="#fff"/>
<rect x="554" y="436" width="1" height="27" fill="#000"/><rect x="552" y="451" width="5" height="4" fill="#000"/><rect x="553" y="452" width="3" height="2" fill="#fff"/>
<rect x="562" y="348" width="1" height="115" fill="#000"/><rect x="560" y="356" width="5" height="97" fill="#000"/><rect x="561" y="357" width="3" height="95" fill="#fff"/>
<rect x="570" y="336" width="1" height="62" fill="#000"/><rect x="568" y="357" width="5" height="18" fill="#000"/>
<rect x="578" y="371" width="1" height="44" fill="#000"/><rect x="576" y="373" width="5" height="34" fill="#000"/>
<rect x="586" y="376" width="1" height="31" fill="#000"/><rect x="584" y="392" width="5" height="15" fill="#000"/><rect x="585" y="393" width="3" height="13" fill="#fff"/>
<rect x="594" y="340" width="1" height="54" fill="#000"/><rect x="592" y="349" width="5" height="45" fill="#000"/><rect x="593" y="350" width="3" height="43" fill="#fff"/>
<rect x="602" y="296" width="1" height="58" fill="#000"/><rect x="600" y="297" width="5" height="53" fill="#000"/><rect x="601" y="298" width="3" height="51" fill="#fff"/>
<rect x="610" y="268" width="1" height="41" fill="#000"/><rect x="608" y="286" width="5" height="12" fill="#000"/><rect x="609" y="287" width="3" height="10" fill="#fff"/>
<rect x="618" y="235" width="1" height="60" fill="#000"/><rect x="616" y="237" width="5" height="50" fill="#000"/><rect x="617" y="238" width="3" height="48" fill="#fff"/>
<rect x="626" y="299" width="1" height="57" fill="#000"/><rect x="624" y="318" width="5" height="5" fill="#000"/><rect x="625" y="319" width="3" height="3" fill="#fff"/>
<rect x="634" y="264" width="1" height="64" fill="#000"/><rect x="632" y="297" width="5" height="20" fill="#000"/><rect x="633" y="298" width="3" height="18" fill="#fff"/>
<rect x="642" y="278" width="1" height="57" fill="#000"/><rect x="640" y="297" width="5" height="16" fill="#000"/>
<rect x="650" y="308" width="1" height="49" fill="#000"/><rect x="648" y="312" width="5" height="45" fill="#000"/>
<rect x="658" y="318" width="1" height="65" fill="#000"/><rect x="656" y="355" width="5" height="2" fill="#000"/>
<rect x="666" y="319" width="1" height="43" fill="#000"/><rect x="664" y="349" width="5" height="8" fill="#000"/><rect x="665" y="350" width="3" height="6" fill="#fff"/>
<rect x="674" y="323" width="1" height="29" fill="#000"/><rect x="672" y="331" width="5" height="18" fill="#000"/><rect x="673" y="332" width="3" height="16" fill="#fff"/>
<rect x="682" y="283" width="1" height="56" fill="#000"/><rect x="680" y="316" width="5" height="16" fill="#000"/><rect x="681" y="317" width="3" height="14" fill="#fff"/>
<rect x="690" y="297" width="1" height="34" fill="#000"/><rect x="688" y="297" width="5" height="21" fill="#000"/><rect x="689" y="298" width="3" height="19" fill="#fff"/>
<rect x="698" y="285" width="1" height="43" fill="#000"/><rect x="696" y="298" width="5" height="8" fill="#000"/>
<rect x="706" y="263" width="1" height="45" fill="#000"/><rect x="704" y="272" width="5" height="34" fill="#000"/><rect x="705" y="273" width="3" height="32" fill="#fff"/>
<rect x="714" y="250" width="1" height="33" fill="#000"/><rect x="712" y="259" width="5" height="14" fill="#000"/><rect x="713" y="260" width="3" height="12" fill="#fff"/>
<rect x="722" y="256" width="1" height="27" fill="#000"/><rect x="720" y="258" width="5" height="17" fill="#000"/>
<rect x="730" y="264" width="1" height="27" fill="#000"/><rect x="728" y="274" width="5" height="14" fill="#000"/>
<rect x="738" y="272" width="1" height="34" fill="#000"/><rect x="736" y="272" width="5" height="16" fill="#000"/><rect x="737" y="273" width="3" height="14" fill="#fff"/>
<rect x="746" y="262" width="1" height="27" fill="#000"/><rect x="744" y="271" width="5" height="9" fill="#000"/>
<rect x="754" y="219" width="1" height="61" fill="#000"/><rect x="752" y="222" width="5" height="58" fill="#000"/><rect x="753" y="223" width="3" height="56" fill="#fff"/>
<rect x="762" y="211" width="1" height="46" fill="#000"/><rect x="760" y="222" width="5" height="18" fill="#000"/>
<rect x="770" y="223" width="1" height="24" fill="#000"/><rect x="768" y="225" width="5" height="14" fill="#000"/><rect x="769" y="226" width="3" height="12" fill="#fff"/>
<rect x="778" y="172" width="1" height="63" fill="#000"/><rect x="776" y="181" width="5" height="46" fill="#000"/><rect x="777" y="182" width="3" height="44" fill="#fff"/>
<rect x="786" y="168" width="1" height="54" fill="#000"/><rect x="784" y="181" width="5" height="8" fill="#000"/>
<rect x="794" y="148" width="1" height="57" fill="#000"/><rect x="792" y="152" width="5" height="37" fill="#000"/><rect x="793" y="153" width="3" height="35" fill="#fff"/>
<rect x="802" y="137" width="1" height="34" fill="#000"/><rect x="800" y="142" width="5" height="11" fill="#000"/><rect x="801" y="143" width="3" height="9" fill="#fff"/>
<rect x="810" y="99" width="1" height="48" fill="#000"/><rect x="808" y="111" width="5" height="33" fill="#000"/><rect x="809" y="112" width="3" height="31" fill="#fff"/>
<rect x="818" y="80" width="1" height="46" fill="#000"/><rect x="816" y="82" width="5" height="30" fill="#000"/><rect x="817" y="83" width="3" height="28" fill="#fff"/>
<rect x="826" y="81" width="1" height="67" fill="#000"/><rect x="824" y="81" width="5" height="59" fill="#000"/>
<rect x="834" y="134" width="1" height="47" fill="#000"/><rect x="832" y="137" width="5" height="35" fill="#000"/>
<rect x="842" y="132" width="1" height="40" fill="#000"/><rect x="840" y="141" width="5" height="31" fill="#000"/><rect x="841" y="142" width="3" height="29" fill="#fff"/>
<rect x="850" y="78" width="1" height="74" fill="#000"/><rect x="848" y="83" width="5" height="60" fill="#000"/><rect x="849" y="84" width="3" height="58" fill="#fff"/>
<rect x="858" y="73" width="1" height="34" fill="#000"/><rect x="856" y="82" width="5" height="9" fill="#000"/>
<rect x="866" y="93" width="1" height="41" fill="#000"/><rect x="864" y="94" width="5" height="34" fill="#000"/>
<rect x="874" y="108" width="1" height="40" fill="#000"/><rect x="872" y="127" width="5" height="7" fill="#000"/>
<rect x="882" y="131" width="1" height="33" fill="#000"/><rect x="880" y="132" width="5" height="3" fill="#000"/>
<rect x="890" y="103" width="1" height="41" fill="#000"/><rect x="888" y="108" width="5" height="28" fill="#000"/><rect x="889" y="109" width="3" height="26" fill="#fff"/>
<rect x="898" y="80" width="1" height="77" fill="#000"/><rect x="896" y="80" width="5" height="28" fill="#000"/><rect x="897" y="81" width="3" height="26" fill="#fff"/>
<rect x="906" y="68" width="1" height="25" fill="#000"/><rect x="904" y="80" width="5" height="3" fill="#000"/>
<rect x="914" y="80" width="1" height="29" fill="#000"/><rect x="912" y="82" width="5" height="26" fill="#000"/>
<rect x="922" y="98" width="1" height="45" fill="#000"/><rect x="920" y="107" width="5" height="26" fill="#000"/>
<rect x="930" y="112" width="1" height="30" fill="#000"/><rect x="928" y="121" width="5" height="12" fill="#000"/><rect x="929" y="122" width="3" height="10" fill="#fff"/>
<rect x="938" y="100" width="1" height="34" fill="#000"/><rect x="936" y="105" width="5" height="17" fill="#000"/><rect x="937" y="106" width="3" height="15" fill="#fff"/>
<rect x="946" y="73" width="1" height="46" fill="#000"/><rect x="944" y="76" width="5" height="30" fill="#000"/><rect x="945" y="77" width="3" height="28" fill="#fff"/>
<rect x="954" y="62" width="1" height="23" fill="#000"/><rect x="952" y="73" width="5" height="3" fill="#000"/><rect x="953" y="74" width="3" height="1" fill="#fff"/>
<rect x="962" y="71" width="1" height="26" fill="#000"/><rect x="960" y="73" width="5" height="19" fill="#000"/>
<rect x="970" y="84" width="1" height="27" fill="#000"/><rect x="968" y="92" width="5" height="1" fill="#000"/>
<rect x="978" y="73" width="1" height="23" fill="#000"/><rect x="976" y="75" width="5" height="18" fill="#000"/><rect x="977" y="76" width="3" height="16" fill="#fff"/>
<rect x="986" y="70" width="1" height="26" fill="#000"/><rect x="984" y="75" width="5" height="11" fill="#000"/>
<rect x="994" y="64" width="1" height="23" fill="#000"/><rect x="992" y="77" width="5" height="8" fill="#000"/><rect x="993" y="78" width="3" height="6" fill="#fff"/>
<rect x="1002" y="68" width="1" height="25" fill="#000"/><rect x="1000" y="77" width="5" height="14" fill="#000"/>
<rect x="1010" y="85" width="1" height="22" fill="#000"/><rect x="1008" y="89" width="5" height="17" fill="#000"/>
<rect x="1018" y="100" width="1" height="20" fill="#000"/><rect x="1016" y="103" width="5" height="11" fill="#000"/>
<rect x="1026" y="104" width="1" height="26" fill="#000"/><rect x="1024" y="112" width="5" height="13" fill="#000"/>
<rect x="1034" y="121" width="1" height="47" fill="#000"/><rect x="1032" y="122" width="5" height="39" fill="#000"/>
<rect x="1042" y="142" width="1" height="37" fill="#000"/><rect x="1040" y="159" width="5" height="14" fill="#000"/>
<rect x="1050" y="157" width="1" height="29" fill="#000"/><rect x="1048" y="172" width="5" height="5" fill="#000"/>
<rect x="1058" y="164" width="1" height="26" fill="#000"/><rect x="1056" y="175" width="5" height="15" fill="#000"/>
<rect x="1066" y="175" width="1" height="57" fill="#000"/><rect x="1064" y="186" width="5" height="40" fill="#000"/>
<rect x="1074" y="194" width="1" height="40" fill="#000"/><rect x="1072" y="200" width="5" height="25" fill="#000"/><rect x="1073" y="201" width="3" height="23" fill="#fff"/>
<rect x="1082" y="191" width="1" height="28" fill="#000"/><rect x="1080" y="199" width="5" height="5" fill="#000"/>
<rect x="1090" y="199" width="1" height="52" fill="#000"/><rect x="1088" y="203" width="5" height="34" fill="#000"/>
<rect x="1098" y="234" width="1" height="22" fill="#000"/><rect x="1096" y="235" width="5" height="21" fill="#000"/>
<rect x="1106" y="254" width="1" height="21" fill="#000"/><rect x="1104" y="260" width="5" height="12" fill="#000"/>
<rect x="1114" y="254" width="1" height="23" fill="#000"/><rect x="1112" y="269" width="5" height="8" fill="#000"/>
<rect x="1122" y="231" width="1" height="47" fill="#000"/><rect x="1120" y="244" width="5" height="33" fill="#000"/><rect x="1121" y="245" width="3" height="31" fill="#fff"/>
<rect x="1130" y="240" width="1" height="30" fill="#000"/><rect x="1128" y="244" width="5" height="1" fill="#000"/>
<rect x="1138" y="229" width="1" height="33" fill="#000"/><rect x="1136" y="241" width="5" height="5" fill="#000"/><rect x="1137" y="242" width="3" height="3" fill="#fff"/>
<rect x="1146" y="238" width="1" height="19" fill="#000"/><rect x="1144" y="240" width="5" height="17" fill="#000"/>
<rect x="1154" y="233" width="1" height="26" fill="#000"/><rect x="1152" y="241" width="5" height="16" fill="#000"/><rect x="1153" y="242" width="3" height="14" fill="#fff"/>
<rect x="1162" y="208" width="1" height="41" fill="#000"/><rect x="1160" y="224" width="5" height="16" fill="#000"/><rect x="1161" y="225" width="3" height="14" fill="#fff"/>
<rect x="1170" y="213" width="1" height="28" fill="#000"/><rect x="1168" y="223" width="5" height="2" fill="#000"/>
<rect x="1178" y="208" width="1" height="24" fill="#000"/><rect x="1176" y="219" width="5" height="5" fill="#000"/><rect x="1177" y="220" width="3" height="3" fill="#fff"/>
<rect x="1186" y="212" width="1" height="59" fill="#000"/><rect x="1184" y="215" width="5" height="52" fill="#000"/>
<rect x="1194" y="246" width="1" height="23" fill="#000"/><rect x="1192" y="265" width="5" height="4" fill="#000"/>
<rect x="1202" y="255" width="1" height="19" fill="#000"/><rect x="1200" y="267" width="5" height="1" fill="#000"/>
<rect x="1210" y="247" width="1" height="34" fill="#000"/><rect x="1208" y="254" width="5" height="14" fill="#000"/><rect x="1209" y="255" width="3" height="12" fill="#fff"/>
<rect x="1218" y="252" width="1" height="28" fill="#000"/><rect x="1216" y="254" width="5" height="7" fill="#000"/>
<rect x="1226" y="253" width="1" height="20" fill="#000"/><rect x="1224" y="261" width="5" height="7" fill="#000"/>
<rect x="1234" y="262" width="1" height="30" fill="#000"/><rect x="1232" y="266" width="5" height="26" fill="#000"/>
<rect x="1242" y="276" width="1" height="18" fill="#000"/><rect x="1240" y="286" width="5" height="5" fill="#000"/><rect x="1241" y="287" width="3" height="3" fill="#fff"/>
<rect x="1250" y="276" width="1" height="15" fill="#000"/><rect x="1248" y="278" width="5" height="9" fill="#000"/><rect x="1249" y="279" width="3" height="7" fill="#fff"/>
<rect x="1258" y="264" width="1" height="21" fill="#000"/><rect x="1256" y="272" width="5" height="8" fill="#000"/><rect x="1257" y="273" width="3" height="6" fill="#fff"/>
<rect x="1266" y="266" width="1" height="21" fill="#000"/><rect x="1264" y="272" width="5" height="6" fill="#000"/>
<rect x="1274" y="273" width="1" height="8" fill="#000"/><rect x="1272" y="277" width="5" height="1" fill="#000"/>
<rect x="1282" y="241" width="1" height="52" fill="#000"/><rect x="1280" y="250" width="5" height="27" fill="#000"/><rect x="1281" y="251" width="3" height="25" fill="#fff"/>
<rect x="1290" y="238" width="1" height="16" fill="#000"/><rect x="1288" y="248" width="5" height="3" fill="#000"/><rect x="1289" y="249" width="3" height="1" fill="#fff"/>
<rect x="1298" y="233" width="1" height="17" fill="#000"/><rect x="1296" y="242" width="5" height="7" fill="#000"/><rect x="1297" y="243" width="3" height="5" fill="#fff"/>
<rect x="1306" y="236" width="1" height="19" fill="#000"/><rect x="1304" y="242" width="5" height="4" fill="#000"/><rect x="1305" y="243" width="3" height="2" fill="#fff"/>
<rect x="1314" y="229" width="1" height="25" fill="#000"/><rect x="1312" y="232" width="5" height="14" fill="#000"/><rect x="1313" y="233" width="3" height="12" fill="#fff"/>
<rect x="1322" y="215" width="1" height="24" fill="#000"/><rect x="1320" y="220" width="5" height="13" fill="#000"/><rect x="1321" y="221" width="3" height="11" fill="#fff"/>
<rect x="1330" y="215" width="1" height="18" fill="#000"/><rect x="1328" y="219" width="5" height="1" fill="#000"/>
<rect x="1338" y="215" width="1" height="21" fill="#000"/><rect x="1336" y="218" width="5" height="14" fill="#000"/>
<rect x="1346" y="206" width="1" height="17" fill="#000"/><rect x="1344" y="210" width="5" height="13" fill="#000"/><rect x="1345" y="211" width="3" height="11" fill="#fff"/>
<rect x="1354" y="190" width="1" height="25" fill="#000"/><rect x="1352" y="201" width="5" height="12" fill="#000"/><rect x="1353" y="202" width="3" height="10" fill="#fff"/>
<rect x="1362" y="176" width="1" height="28" fill="#000"/><rect x="1360" y="187" width="5" height="15" fill="#000"/><rect x="1361" y="188" width="3" height="13" fill="#fff"/>
<rect x="1370" y="180" width="1" height="21" fill="#000"/><rect x="1368" y="187" width="5" height="13" fill="#000"/>
<rect x="1378" y="186" width="1" height="18" fill="#000"/><rect x="1376" y="190" width="5" height="9" fill="#000"/><rect x="1377" y="191" width="3" height="7" fill="#fff"/>
<rect x="1386" y="182" width="1" height="18" fill="#000"/><rect x="1384" y="187" width="5" height="3" fill="#000"/><rect x="1385" y="188" width="3" height="1" fill="#fff"/>
<rect x="1394" y="183" width="1" height="8" fill="#000"/><rect x="1392" y="185" width="5" height="3" fill="#000"/><rect x="1393" y="186" width="3" height="1" fill="#fff"/>
<rect x="1402" y="184" width="1" height="2" fill="#000"/><rect x="1400" y="184" width="5" height="2" fill="#000"/>
</g>
</g>
<g clip-path="url(#cm)">
<rect x="1321" y="207" width="117" height="9" fill="#00ff00" shape-rendering="crispEdges"/>
<line x1="992" y1="78" x2="1113.4" y2="280.9" stroke="#ff0000" stroke-width="2.8" stroke-linecap="round"/><path d="M1118.0 288.6 L1108.4 281.5 L1116.3 276.8 Z" fill="#ff0000" stroke="#ff0000" stroke-width="1" stroke-linejoin="round"/>
<line x1="1118" y1="288.6" x2="1179.1" y2="217.8" stroke="#ff0000" stroke-width="2.8" stroke-linecap="round"/><path d="M1185.0 211.0 L1181.3 222.3 L1174.3 216.3 Z" fill="#ff0000" stroke="#ff0000" stroke-width="1" stroke-linejoin="round"/>
<line x1="1185" y1="211" x2="1237.6" y2="292.1" stroke="#ff0000" stroke-width="2.8" stroke-linecap="round"/><path d="M1242.5 299.6 L1232.7 292.9 L1240.4 287.9 Z" fill="#ff0000" stroke="#ff0000" stroke-width="1" stroke-linejoin="round"/>
<line x1="1242.5" y1="299.6" x2="1420.6" y2="144.8" stroke="#ff0000" stroke-width="2.8" stroke-linecap="round"/><path d="M1427.4 138.9 L1422.1 149.6 L1416.1 142.6 Z" fill="#ff0000" stroke="#ff0000" stroke-width="1" stroke-linejoin="round"/>
<g shape-rendering="crispEdges"><rect x="1507" y="210" width="8" height="1" fill="#ff0000"/><rect x="1514.5" y="208.5" width="2" height="3" fill="#fff" stroke="#ff0000"/><rect x="1517.5" y="198.5" width="73" height="24" fill="#ffffff" stroke="#ff0000"/></g>
<text x="1518.8" y="219" font-family="'Liberation Sans', Arial, sans-serif" font-size="23" fill="#ff0000" text-anchor="start" font-weight="normal" textLength="70.8" lengthAdjust="spacingAndGlyphs">108.669</text>
<text x="1416" y="265" font-family="'Liberation Serif', 'Noto Serif CJK SC', serif" font-size="31" fill="#000000" text-anchor="start" font-weight="600" letter-spacing="1.7" transform="translate(1,1)">多空转折点</text>
<text x="1416" y="265" font-family="'Liberation Serif', 'Noto Serif CJK SC', serif" font-size="31" fill="#00ff00" text-anchor="start" font-weight="600" letter-spacing="1.7">多空转折点</text>
</g>
<path d="M1412 36 L1421 36 L1416.5 41 Z" fill="#c0c0c0"/>
<path d="M5 46 L8.5 42 L12 46 Z" fill="#000"/>
<text x="17" y="47" font-family="'Liberation Sans', Arial, sans-serif" font-size="10" fill="#000" text-anchor="start" font-weight="normal" textLength="200" lengthAdjust="spacingAndGlyphs" stroke="#000" stroke-width="0.2">USDJPY-,H4&#160;&#160;109.183 109.214 109.181 109.205</text>
<g>
<rect x="3" y="53" width="223" height="68" fill="#ffffff"/>
<path d="M5.5 55.5 L56.5 55.5 L56.5 78.5 L113.5 78.5 L113.5 118.5 L5.5 118.5 Z" fill="url(#gb)" stroke="#1c1cc8"/>
<path d="M172.5 55.5 L223.5 55.5 L223.5 118.5 L116.5 118.5 L116.5 78.5 L172.5 78.5 Z" fill="url(#gb)" stroke="#1c1cc8"/>
<rect x="9" y="79" width="44" height="1" fill="#8c8cff" shape-rendering="crispEdges"/>
<rect x="176" y="79" width="44" height="1" fill="#8c8cff" shape-rendering="crispEdges"/>
<g shape-rendering="crispEdges"><rect x="59.5" y="55.5" width="110" height="21" fill="#fff" stroke="#a4a4a4"/><rect x="60" y="56" width="20" height="20" fill="url(#gbtn)"/><rect x="80" y="56" width="1" height="20" fill="#a4a4a4"/><rect x="149" y="56" width="20" height="20" fill="url(#gbtn)"/><rect x="148" y="56" width="1" height="20" fill="#a4a4a4"/></g>
<path d="M67 64.5 L72.5 64.5 L69.75 67.5 Z" fill="#6070c8"/>
<path d="M156 67.5 L161.5 67.5 L158.75 64.5 Z" fill="#6070c8"/>
<text x="145" y="70" font-family="'Liberation Sans', Arial, sans-serif" font-size="12.5" fill="#000" text-anchor="end" font-weight="normal" >1.00</text>
<text x="17.3" y="71" font-family="'Liberation Sans', Arial, sans-serif" font-size="12" fill="#ffffff" text-anchor="start" font-weight="normal" textLength="26" lengthAdjust="spacingAndGlyphs">SELL</text>
<text x="185.2" y="71" font-family="'Liberation Sans', Arial, sans-serif" font-size="12" fill="#ffffff" text-anchor="start" font-weight="normal" textLength="24" lengthAdjust="spacingAndGlyphs">BUY</text>
<text x="28" y="110" font-family="'Liberation Sans', Arial, sans-serif" font-size="12.5" fill="#ffffff" text-anchor="start" font-weight="bold" >109</text>
<text x="52" y="110" font-family="'Liberation Sans', Arial, sans-serif" font-size="33" fill="#ffffff" text-anchor="start" font-weight="normal" >20</text>
<text x="92" y="93.5" font-family="'Liberation Sans', Arial, sans-serif" font-size="12" fill="#ffffff" text-anchor="start" font-weight="bold" >5</text>
<text x="138" y="110" font-family="'Liberation Sans', Arial, sans-serif" font-size="12.5" fill="#ffffff" text-anchor="start" font-weight="bold" >109</text>
<text x="163" y="110" font-family="'Liberation Sans', Arial, sans-serif" font-size="33" fill="#ffffff" text-anchor="start" font-weight="normal" >23</text>
<text x="203" y="93.5" font-family="'Liberation Sans', Arial, sans-serif" font-size="12" fill="#ffffff" text-anchor="start" font-weight="bold" >2</text>
</g>
<g shape-rendering="crispEdges">
<rect x="1612" y="57" width="2" height="1" fill="#000"/>
<rect x="1612" y="90" width="2" height="1" fill="#000"/>
<rect x="1612" y="123" width="2" height="1" fill="#000"/>
<rect x="1612" y="156" width="2" height="1" fill="#000"/>
<rect x="1612" y="189" width="2" height="1" fill="#000"/>
<rect x="1612" y="222" width="2" height="1" fill="#000"/>
<rect x="1612" y="255" width="2" height="1" fill="#000"/>
<rect x="1612" y="288" width="2" height="1" fill="#000"/>
<rect x="1612" y="321" width="2" height="1" fill="#000"/>
<rect x="1612" y="354" width="2" height="1" fill="#000"/>
<rect x="1612" y="387" width="2" height="1" fill="#000"/>
<rect x="1612" y="420" width="2" height="1" fill="#000"/>
<rect x="1612" y="453" width="2" height="1" fill="#000"/>
<rect x="1612" y="486" width="2" height="1" fill="#000"/>
<rect x="1612" y="519" width="2" height="1" fill="#000"/>
<rect x="1612" y="552" width="2" height="1" fill="#000"/>
<rect x="1612" y="585" width="2" height="1" fill="#000"/>
</g>
<text x="1617" y="61" font-family="'Liberation Sans', Arial, sans-serif" font-size="9.9" fill="#000" text-anchor="start" font-weight="normal" textLength="33.8" lengthAdjust="spacingAndGlyphs" stroke="#000" stroke-width="0.22">111.810</text>
<text x="1617" y="94" font-family="'Liberation Sans', Arial, sans-serif" font-size="9.9" fill="#000" text-anchor="start" font-weight="normal" textLength="33.8" lengthAdjust="spacingAndGlyphs" stroke="#000" stroke-width="0.22">111.130</text>
<text x="1617" y="127" font-family="'Liberation Sans', Arial, sans-serif" font-size="9.9" fill="#000" text-anchor="start" font-weight="normal" textLength="33.8" lengthAdjust="spacingAndGlyphs" stroke="#000" stroke-width="0.22">110.450</text>
<text x="1617" y="160" font-family="'Liberation Sans', Arial, sans-serif" font-size="9.9" fill="#000" text-anchor="start" font-weight="normal" textLength="33.8" lengthAdjust="spacingAndGlyphs" stroke="#000" stroke-width="0.22">109.790</text>
<text x="1617" y="193" font-family="'Liberation Sans', Arial, sans-serif" font-size="9.9" fill="#000" text-anchor="start" font-weight="normal" textLength="33.8" lengthAdjust="spacingAndGlyphs" stroke="#000" stroke-width="0.22">109.110</text>
<text x="1617" y="226" font-family="'Liberation Sans', Arial, sans-serif" font-size="9.9" fill="#000" text-anchor="start" font-weight="normal" textLength="33.8" lengthAdjust="spacingAndGlyphs" stroke="#000" stroke-width="0.22">108.430</text>
<text x="1617" y="259" font-family="'Liberation Sans', Arial, sans-serif" font-size="9.9" fill="#000" text-anchor="start" font-weight="normal" textLength="33.8" lengthAdjust="spacingAndGlyphs" stroke="#000" stroke-width="0.22">107.750</text>
<text x="1617" y="292" font-family="'Liberation Sans', Arial, sans-serif" font-size="9.9" fill="#000" text-anchor="start" font-weight="normal" textLength="33.8" lengthAdjust="spacingAndGlyphs" stroke="#000" stroke-width="0.22">107.070</text>
<text x="1617" y="325" font-family="'Liberation Sans', Arial, sans-serif" font-size="9.9" fill="#000" text-anchor="start" font-weight="normal" textLength="33.8" lengthAdjust="spacingAndGlyphs" stroke="#000" stroke-width="0.22">106.390</text>
<text x="1617" y="358" font-family="'Liberation Sans', Arial, sans-serif" font-size="9.9" fill="#000" text-anchor="start" font-weight="normal" textLength="33.8" lengthAdjust="spacingAndGlyphs" stroke="#000" stroke-width="0.22">105.710</text>
<text x="1617" y="391" font-family="'Liberation Sans', Arial, sans-serif" font-size="9.9" fill="#000" text-anchor="start" font-weight="normal" textLength="33.8" lengthAdjust="spacingAndGlyphs" stroke="#000" stroke-width="0.22">105.030</text>
<text x="1617" y="424" font-family="'Liberation Sans', Arial, sans-serif" font-size="9.9" fill="#000" text-anchor="start" font-weight="normal" textLength="33.8" lengthAdjust="spacingAndGlyphs" stroke="#000" stroke-width="0.22">104.350</text>
<text x="1617" y="457" font-family="'Liberation Sans', Arial, sans-serif" font-size="9.9" fill="#000" text-anchor="start" font-weight="normal" textLength="33.8" lengthAdjust="spacingAndGlyphs" stroke="#000" stroke-width="0.22">103.670</text>
<text x="1617" y="490" font-family="'Liberation Sans', Arial, sans-serif" font-size="9.9" fill="#000" text-anchor="start" font-weight="normal" textLength="33.8" lengthAdjust="spacingAndGlyphs" stroke="#000" stroke-width="0.22">102.990</text>
<text x="1617" y="523" font-family="'Liberation Sans', Arial, sans-serif" font-size="9.9" fill="#000" text-anchor="start" font-weight="normal" textLength="33.8" lengthAdjust="spacingAndGlyphs" stroke="#000" stroke-width="0.22">102.310</text>
<text x="1617" y="556" font-family="'Liberation Sans', Arial, sans-serif" font-size="9.9" fill="#000" text-anchor="start" font-weight="normal" textLength="33.8" lengthAdjust="spacingAndGlyphs" stroke="#000" stroke-width="0.22">101.630</text>
<text x="1617" y="589" font-family="'Liberation Sans', Arial, sans-serif" font-size="9.9" fill="#000" text-anchor="start" font-weight="normal" textLength="33.8" lengthAdjust="spacingAndGlyphs" stroke="#000" stroke-width="0.22">100.970</text>
<rect x="1613" y="118" width="41" height="11" fill="#ff0000" shape-rendering="crispEdges"/><text x="1617" y="127" font-family="'Liberation Sans', Arial, sans-serif" font-size="9.9" fill="#fff" text-anchor="start" font-weight="normal" textLength="33.8" lengthAdjust="spacingAndGlyphs" stroke="#fff" stroke-width="0.22">110.434</text>
<rect x="1613" y="148" width="41" height="11" fill="#ff0000" shape-rendering="crispEdges"/><text x="1617" y="157" font-family="'Liberation Sans', Arial, sans-serif" font-size="9.9" fill="#fff" text-anchor="start" font-weight="normal" textLength="33.8" lengthAdjust="spacingAndGlyphs" stroke="#fff" stroke-width="0.22">109.818</text>
<rect x="1613" y="179" width="41" height="11" fill="#000000" shape-rendering="crispEdges"/><text x="1617" y="188" font-family="'Liberation Sans', Arial, sans-serif" font-size="9.9" fill="#fff" text-anchor="start" font-weight="normal" textLength="33.8" lengthAdjust="spacingAndGlyphs" stroke="#fff" stroke-width="0.22">109.205</text>
<rect x="1613" y="204" width="41" height="11" fill="#32cd32" shape-rendering="crispEdges"/><text x="1617" y="213" font-family="'Liberation Sans', Arial, sans-serif" font-size="9.9" fill="#fff" text-anchor="start" font-weight="normal" textLength="33.8" lengthAdjust="spacingAndGlyphs" stroke="#fff" stroke-width="0.22">108.669</text>
<rect x="1613" y="231" width="41" height="11" fill="#0000ff" shape-rendering="crispEdges"/><text x="1617" y="240" font-family="'Liberation Sans', Arial, sans-serif" font-size="9.9" fill="#fff" text-anchor="start" font-weight="normal" textLength="33.8" lengthAdjust="spacingAndGlyphs" stroke="#fff" stroke-width="0.22">108.114</text>
<rect x="1613" y="265" width="41" height="11" fill="#0000ff" shape-rendering="crispEdges"/><text x="1617" y="274" font-family="'Liberation Sans', Arial, sans-serif" font-size="9.9" fill="#fff" text-anchor="start" font-weight="normal" textLength="33.8" lengthAdjust="spacingAndGlyphs" stroke="#fff" stroke-width="0.22">107.417</text>
<g clip-path="url(#cmacd)">
<g shape-rendering="crispEdges"><rect x="2" y="668" width="1" height="9" fill="#c0c0c0"/><rect x="10" y="668" width="1" height="9" fill="#c0c0c0"/><rect x="18" y="668" width="1" height="9" fill="#c0c0c0"/><rect x="26" y="668" width="1" height="9" fill="#c0c0c0"/><rect x="34" y="668" width="1" height="8" fill="#c0c0c0"/><rect x="42" y="668" width="1" height="10" fill="#c0c0c0"/><rect x="50" y="668" width="1" height="9" fill="#c0c0c0"/><rect x="58" y="668" width="1" height="10" fill="#c0c0c0"/><rect x="66" y="668" width="1" height="11" fill="#c0c0c0"/><rect x="74" y="668" width="1" height="12" fill="#c0c0c0"/><rect x="82" y="668" width="1" height="12" fill="#c0c0c0"/><rect x="90" y="668" width="1" height="13" fill="#c0c0c0"/><rect x="98" y="668" width="1" height="15" fill="#c0c0c0"/><rect x="106" y="668" width="1" height="18" fill="#c0c0c0"/><rect x="114" y="668" width="1" height="22" fill="#c0c0c0"/><rect x="122" y="668" width="1" height="26" fill="#c0c0c0"/><rect x="130" y="668" width="1" height="32" fill="#c0c0c0"/><rect x="138" y="668" width="1" height="36" fill="#c0c0c0"/><rect x="146" y="668" width="1" height="40" fill="#c0c0c0"/><rect x="154" y="668" width="1" height="40" fill="#c0c0c0"/><rect x="162" y="668" width="1" height="39" fill="#c0c0c0"/><rect x="170" y="668" width="1" height="41" fill="#c0c0c0"/><rect x="178" y="668" width="1" height="41" fill="#c0c0c0"/><rect x="186" y="668" width="1" height="41" fill="#c0c0c0"/><rect x="194" y="668" width="1" height="37" fill="#c0c0c0"/><rect x="202" y="668" width="1" height="37" fill="#c0c0c0"/><rect x="210" y="668" width="1" height="35" fill="#c0c0c0"/><rect x="218" y="668" width="1" height="34" fill="#c0c0c0"/><rect x="226" y="668" width="1" height="35" fill="#c0c0c0"/><rect x="234" y="668" width="1" height="36" fill="#c0c0c0"/><rect x="242" y="668" width="1" height="38" fill="#c0c0c0"/><rect x="250" y="668" width="1" height="37" fill="#c0c0c0"/><rect x="258" y="668" width="1" height="36" fill="#c0c0c0"/><rect x="266" y="668" width="1" height="34" fill="#c0c0c0"/><rect x="274" y="668" width="1" height="34" fill="#c0c0c0"/><rect x="282" y="668" width="1" height="32" fill="#c0c0c0"/><rect x="290" y="668" width="1" height="29" fill="#c0c0c0"/><rect x="298" y="668" width="1" height="29" fill="#c0c0c0"/><rect x="306" y="668" width="1" height="27" fill="#c0c0c0"/><rect x="314" y="668" width="1" height="28" fill="#c0c0c0"/><rect x="322" y="668" width="1" height="30" fill="#c0c0c0"/><rect x="330" y="668" width="1" height="32" fill="#c0c0c0"/><rect x="338" y="668" width="1" height="34" fill="#c0c0c0"/><rect x="346" y="668" width="1" height="37" fill="#c0c0c0"/><rect x="354" y="668" width="1" height="39" fill="#c0c0c0"/><rect x="362" y="668" width="1" height="43" fill="#c0c0c0"/><rect x="370" y="668" width="1" height="44" fill="#c0c0c0"/><rect x="378" y="668" width="1" height="46" fill="#c0c0c0"/><rect x="386" y="668" width="1" height="53" fill="#c0c0c0"/><rect x="394" y="668" width="1" height="64" fill="#c0c0c0"/><rect x="402" y="668" width="1" height="73" fill="#c0c0c0"/><rect x="410" y="668" width="1" height="80" fill="#c0c0c0"/><rect x="418" y="668" width="1" height="83" fill="#c0c0c0"/><rect x="426" y="668" width="1" height="84" fill="#c0c0c0"/><rect x="434" y="668" width="1" height="82" fill="#c0c0c0"/><rect x="442" y="668" width="1" height="76" fill="#c0c0c0"/><rect x="450" y="668" width="1" height="70" fill="#c0c0c0"/><rect x="458" y="668" width="1" height="60" fill="#c0c0c0"/><rect x="466" y="668" width="1" height="57" fill="#c0c0c0"/><rect x="474" y="668" width="1" height="45" fill="#c0c0c0"/><rect x="482" y="668" width="1" height="37" fill="#c0c0c0"/><rect x="490" y="668" width="1" height="32" fill="#c0c0c0"/><rect x="498" y="668" width="1" height="27" fill="#c0c0c0"/><rect x="506" y="668" width="1" height="24" fill="#c0c0c0"/><rect x="514" y="668" width="1" height="20" fill="#c0c0c0"/><rect x="522" y="668" width="1" height="18" fill="#c0c0c0"/><rect x="530" y="668" width="1" height="17" fill="#c0c0c0"/><rect x="538" y="668" width="1" height="21" fill="#c0c0c0"/><rect x="546" y="668" width="1" height="23" fill="#c0c0c0"/><rect x="554" y="668" width="1" height="23" fill="#c0c0c0"/><rect x="562" y="668" width="1" height="15" fill="#c0c0c0"/><rect x="570" y="668" width="1" height="10" fill="#c0c0c0"/><rect x="578" y="668" width="1" height="8" fill="#c0c0c0"/><rect x="586" y="668" width="1" height="6" fill="#c0c0c0"/><rect x="594" y="668" width="1" height="1" fill="#c0c0c0"/><rect x="602" y="658" width="1" height="10" fill="#c0c0c0"/><rect x="610" y="650" width="1" height="18" fill="#c0c0c0"/><rect x="618" y="639" width="1" height="29" fill="#c0c0c0"/><rect x="626" y="638" width="1" height="30" fill="#c0c0c0"/><rect x="634" y="636" width="1" height="32" fill="#c0c0c0"/><rect x="642" y="636" width="1" height="32" fill="#c0c0c0"/><rect x="650" y="641" width="1" height="27" fill="#c0c0c0"/><rect x="658" y="645" width="1" height="23" fill="#c0c0c0"/><rect x="666" y="647" width="1" height="21" fill="#c0c0c0"/><rect x="674" y="648" width="1" height="20" fill="#c0c0c0"/><rect x="682" y="647" width="1" height="21" fill="#c0c0c0"/><rect x="690" y="645" width="1" height="23" fill="#c0c0c0"/><rect x="698" y="644" width="1" height="24" fill="#c0c0c0"/><rect x="706" y="641" width="1" height="27" fill="#c0c0c0"/><rect x="714" y="638" width="1" height="30" fill="#c0c0c0"/><rect x="722" y="637" width="1" height="31" fill="#c0c0c0"/><rect x="730" y="637" width="1" height="31" fill="#c0c0c0"/><rect x="738" y="637" width="1" height="31" fill="#c0c0c0"/><rect x="746" y="638" width="1" height="30" fill="#c0c0c0"/><rect x="754" y="633" width="1" height="35" fill="#c0c0c0"/><rect x="762" y="632" width="1" height="36" fill="#c0c0c0"/><rect x="770" y="629" width="1" height="39" fill="#c0c0c0"/><rect x="778" y="624" width="1" height="44" fill="#c0c0c0"/><rect x="786" y="621" width="1" height="47" fill="#c0c0c0"/><rect x="794" y="616" width="1" height="52" fill="#c0c0c0"/><rect x="802" y="611" width="1" height="57" fill="#c0c0c0"/><rect x="810" y="606" width="1" height="62" fill="#c0c0c0"/><rect x="818" y="599" width="1" height="69" fill="#c0c0c0"/><rect x="826" y="600" width="1" height="68" fill="#c0c0c0"/><rect x="834" y="605" width="1" height="63" fill="#c0c0c0"/><rect x="842" y="606" width="1" height="62" fill="#c0c0c0"/><rect x="850" y="603" width="1" height="65" fill="#c0c0c0"/><rect x="858" y="601" width="1" height="67" fill="#c0c0c0"/><rect x="866" y="604" width="1" height="64" fill="#c0c0c0"/><rect x="874" y="608" width="1" height="60" fill="#c0c0c0"/><rect x="882" y="612" width="1" height="56" fill="#c0c0c0"/><rect x="890" y="613" width="1" height="55" fill="#c0c0c0"/><rect x="898" y="612" width="1" height="56" fill="#c0c0c0"/><rect x="906" y="612" width="1" height="56" fill="#c0c0c0"/><rect x="914" y="615" width="1" height="53" fill="#c0c0c0"/><rect x="922" y="620" width="1" height="48" fill="#c0c0c0"/><rect x="930" y="623" width="1" height="45" fill="#c0c0c0"/><rect x="938" y="625" width="1" height="43" fill="#c0c0c0"/><rect x="946" y="625" width="1" height="43" fill="#c0c0c0"/><rect x="954" y="624" width="1" height="44" fill="#c0c0c0"/><rect x="962" y="626" width="1" height="42" fill="#c0c0c0"/><rect x="970" y="628" width="1" height="40" fill="#c0c0c0"/><rect x="978" y="628" width="1" height="40" fill="#c0c0c0"/><rect x="986" y="630" width="1" height="38" fill="#c0c0c0"/><rect x="994" y="631" width="1" height="37" fill="#c0c0c0"/><rect x="1002" y="634" width="1" height="34" fill="#c0c0c0"/><rect x="1010" y="637" width="1" height="31" fill="#c0c0c0"/><rect x="1018" y="642" width="1" height="26" fill="#c0c0c0"/><rect x="1026" y="646" width="1" height="22" fill="#c0c0c0"/><rect x="1034" y="653" width="1" height="15" fill="#c0c0c0"/><rect x="1042" y="660" width="1" height="8" fill="#c0c0c0"/><rect x="1050" y="666" width="1" height="2" fill="#c0c0c0"/><rect x="1058" y="668" width="1" height="4" fill="#c0c0c0"/><rect x="1066" y="668" width="1" height="12" fill="#c0c0c0"/><rect x="1074" y="668" width="1" height="16" fill="#c0c0c0"/><rect x="1082" y="668" width="1" height="19" fill="#c0c0c0"/><rect x="1090" y="668" width="1" height="24" fill="#c0c0c0"/><rect x="1098" y="668" width="1" height="30" fill="#c0c0c0"/><rect x="1106" y="668" width="1" height="35" fill="#c0c0c0"/><rect x="1114" y="668" width="1" height="40" fill="#c0c0c0"/><rect x="1122" y="668" width="1" height="40" fill="#c0c0c0"/><rect x="1130" y="668" width="1" height="39" fill="#c0c0c0"/><rect x="1138" y="668" width="1" height="38" fill="#c0c0c0"/><rect x="1146" y="668" width="1" height="38" fill="#c0c0c0"/><rect x="1154" y="668" width="1" height="37" fill="#c0c0c0"/><rect x="1162" y="668" width="1" height="33" fill="#c0c0c0"/><rect x="1170" y="668" width="1" height="30" fill="#c0c0c0"/><rect x="1178" y="668" width="1" height="27" fill="#c0c0c0"/><rect x="1186" y="668" width="1" height="29" fill="#c0c0c0"/><rect x="1194" y="668" width="1" height="30" fill="#c0c0c0"/><rect x="1202" y="668" width="1" height="30" fill="#c0c0c0"/><rect x="1210" y="668" width="1" height="29" fill="#c0c0c0"/><rect x="1218" y="668" width="1" height="28" fill="#c0c0c0"/><rect x="1226" y="668" width="1" height="28" fill="#c0c0c0"/><rect x="1234" y="668" width="1" height="30" fill="#c0c0c0"/><rect x="1242" y="668" width="1" height="30" fill="#c0c0c0"/><rect x="1250" y="668" width="1" height="30" fill="#c0c0c0"/><rect x="1258" y="668" width="1" height="28" fill="#c0c0c0"/><rect x="1266" y="668" width="1" height="27" fill="#c0c0c0"/><rect x="1274" y="668" width="1" height="26" fill="#c0c0c0"/><rect x="1282" y="668" width="1" height="23" fill="#c0c0c0"/><rect x="1290" y="668" width="1" height="19" fill="#c0c0c0"/><rect x="1298" y="668" width="1" height="16" fill="#c0c0c0"/><rect x="1306" y="668" width="1" height="13" fill="#c0c0c0"/><rect x="1314" y="668" width="1" height="10" fill="#c0c0c0"/><rect x="1322" y="668" width="1" height="6" fill="#c0c0c0"/><rect x="1330" y="668" width="1" height="3" fill="#c0c0c0"/><rect x="1338" y="668" width="1" height="1" fill="#c0c0c0"/><rect x="1346" y="666" width="1" height="2" fill="#c0c0c0"/><rect x="1354" y="663" width="1" height="5" fill="#c0c0c0"/><rect x="1362" y="659" width="1" height="9" fill="#c0c0c0"/><rect x="1370" y="657" width="1" height="11" fill="#c0c0c0"/><rect x="1378" y="655" width="1" height="13" fill="#c0c0c0"/><rect x="1386" y="654" width="1" height="14" fill="#c0c0c0"/><rect x="1394" y="652" width="1" height="16" fill="#c0c0c0"/><rect x="1402" y="651" width="1" height="17" fill="#c0c0c0"/></g>
<polyline points="2.5,667.2 10.5,669.7 18.5,671.8 26.5,673.5 34.5,674.9 42.5,676.1 50.5,676.9 58.5,677.5 66.5,677.8 74.5,678.1 82.5,678.5 90.5,678.9 98.5,679.6 106.5,680.7 114.5,682.1 122.5,683.9 130.5,686.4 138.5,689.2 146.5,692.3 154.5,695.4 162.5,698.3 170.5,701.3 178.5,703.8 186.5,705.9 194.5,707.2 202.5,707.8 210.5,707.7 218.5,707.0 226.5,706.4 234.5,706.1 242.5,705.7 250.5,705.3 258.5,704.6 266.5,704.3 274.5,703.9 282.5,703.7 290.5,703.1 298.5,702.4 306.5,701.4 314.5,700.4 322.5,699.5 330.5,699.1 338.5,699.1 346.5,699.5 354.5,700.2 362.5,701.6 370.5,703.4 378.5,705.5 386.5,708.2 394.5,712.0 402.5,716.7 410.5,721.8 418.5,726.9 426.5,731.9 434.5,736.3 442.5,739.7 450.5,742.3 458.5,743.1 466.5,742.3 474.5,739.1 482.5,734.4 490.5,728.9 498.5,722.5 506.5,716.0 514.5,709.8 522.5,704.1 530.5,699.3 538.5,695.3 546.5,692.9 554.5,691.3 562.5,689.3 570.5,687.4 578.5,685.7 586.5,684.1 594.5,682.1 602.5,679.2 610.5,674.8 618.5,669.1 626.5,663.2 634.5,658.0 642.5,653.4 650.5,649.4 658.5,646.1 666.5,643.8 674.5,642.7 682.5,642.4 690.5,643.1 698.5,643.8 706.5,644.3 714.5,644.5 722.5,644.0 730.5,643.2 738.5,642.1 746.5,640.9 754.5,639.3 762.5,637.8 770.5,636.2 778.5,634.3 786.5,632.4 794.5,630.1 802.5,627.2 810.5,623.7 818.5,619.5 826.5,615.8 834.5,612.8 842.5,610.2 850.5,607.8 858.5,605.6 866.5,604.3 874.5,604.0 882.5,604.6 890.5,606.2 898.5,607.5 906.5,608.3 914.5,609.2 922.5,611.1 930.5,613.6 938.5,616.0 946.5,617.8 954.5,619.2 962.5,620.6 970.5,622.5 978.5,624.3 986.5,626.1 994.5,627.3 1002.5,628.5 1010.5,629.8 1018.5,631.7 1026.5,634.1 1034.5,637.2 1042.5,640.7 1050.5,644.9 1058.5,649.5 1066.5,654.9 1074.5,660.5 1082.5,665.9 1090.5,671.5 1098.5,677.2 1106.5,682.8 1114.5,688.1 1122.5,692.7 1130.5,696.6 1138.5,699.5 1146.5,702.1 1154.5,704.1 1162.5,705.1 1170.5,705.1 1178.5,704.2 1186.5,703.0 1194.5,701.9 1202.5,700.9 1210.5,699.9 1218.5,698.8 1226.5,697.8 1234.5,697.5 1242.5,697.5 1250.5,697.8 1258.5,697.8 1266.5,697.5 1274.5,697.1 1282.5,696.4 1290.5,695.4 1298.5,694.0 1306.5,692.2 1314.5,689.9 1322.5,687.2 1330.5,684.4 1338.5,681.5 1346.5,678.4 1354.5,675.3 1362.5,672.2 1370.5,669.2 1378.5,666.4 1386.5,663.7 1394.5,661.3 1402.5,659.1" fill="none" stroke="#ff0000" stroke-width="1" stroke-dasharray="3,3" shape-rendering="crispEdges"/>
</g>
<text x="6" y="603" font-family="'Liberation Sans', Arial, sans-serif" font-size="9.8" fill="#000" text-anchor="start" font-weight="normal" textLength="127" lengthAdjust="spacingAndGlyphs" stroke="#000" stroke-width="0.2">MACD(12,26,9) 0.2909 0.1631</text>
<g shape-rendering="crispEdges"><rect x="1612" y="592" width="2" height="1" fill="#000"/><rect x="1612" y="668" width="3" height="1" fill="#000"/><rect x="1612" y="759" width="3" height="1" fill="#000"/></g>
<text x="1614.6" y="601" font-family="'Liberation Sans', Arial, sans-serif" font-size="9.9" fill="#000" text-anchor="start" font-weight="normal" textLength="23.4" lengthAdjust="spacingAndGlyphs" stroke="#000" stroke-width="0.22">1.331</text>
<text x="1614.6" y="672" font-family="'Liberation Sans', Arial, sans-serif" font-size="9.9" fill="#000" text-anchor="start" font-weight="normal" textLength="18.2" lengthAdjust="spacingAndGlyphs" stroke="#000" stroke-width="0.22">0.00</text>
<text x="1614.6" y="757" font-family="'Liberation Sans', Arial, sans-serif" font-size="9.9" fill="#000" text-anchor="start" font-weight="normal" textLength="31.7" lengthAdjust="spacingAndGlyphs" stroke="#000" stroke-width="0.22">-1.5997</text>
<g clip-path="url(#crsi)">
<g shape-rendering="crispEdges">
<line x1="3" y1="798.5" x2="1611" y2="798.5" stroke="#c0c0c0" stroke-dasharray="3,3"/>
<line x1="3" y1="849.5" x2="1611" y2="849.5" stroke="#c0c0c0" stroke-dasharray="3,3"/>
<line x1="3" y1="910.5" x2="1611" y2="910.5" stroke="#c0c0c0" stroke-dasharray="3,3"/>
</g>
<polyline points="2.5,872.0 10.5,862.3 18.5,863.7 26.5,862.7 34.5,862.7 42.5,873.0 50.5,862.4 58.5,868.8 66.5,872.7 74.5,877.1 82.5,872.5 90.5,875.8 98.5,884.4 106.5,894.7 114.5,899.0 122.5,901.4 130.5,910.0 138.5,910.5 146.5,912.0 154.5,887.0 162.5,878.6 170.5,891.8 178.5,880.1 186.5,881.3 194.5,862.5 202.5,871.3 210.5,869.8 218.5,872.1 226.5,877.9 234.5,882.2 242.5,884.4 250.5,874.1 258.5,870.6 266.5,871.7 274.5,875.4 282.5,873.4 290.5,861.5 298.5,869.7 306.5,868.5 314.5,877.0 322.5,880.7 330.5,884.4 338.5,886.5 346.5,892.7 354.5,892.7 362.5,898.9 370.5,894.3 378.5,896.7 386.5,907.4 394.5,915.0 402.5,915.7 410.5,915.8 418.5,907.1 426.5,908.0 434.5,888.1 442.5,874.1 450.5,871.1 458.5,855.9 466.5,868.6 474.5,843.3 482.5,849.3 490.5,853.0 498.5,849.4 506.5,853.0 514.5,851.6 522.5,853.3 530.5,855.9 538.5,869.8 546.5,865.1 554.5,863.7 562.5,838.1 570.5,843.0 578.5,851.1 586.5,847.7 594.5,838.0 602.5,828.3 610.5,826.5 618.5,818.9 626.5,839.8 634.5,836.2 642.5,839.7 650.5,849.4 658.5,849.4 666.5,847.8 674.5,843.8 682.5,840.6 690.5,836.5 698.5,838.8 706.5,831.8 714.5,829.1 722.5,834.0 730.5,838.2 738.5,834.6 746.5,837.1 754.5,824.5 762.5,830.3 770.5,827.4 778.5,819.1 786.5,821.7 794.5,815.4 802.5,813.8 810.5,809.1 818.5,805.2 826.5,825.6 834.5,835.1 842.5,829.4 850.5,820.1 858.5,822.2 866.5,832.9 874.5,834.6 882.5,834.9 890.5,829.6 898.5,824.3 906.5,825.0 914.5,833.5 922.5,841.2 930.5,838.6 938.5,834.7 946.5,828.3 954.5,827.7 962.5,834.3 970.5,834.6 978.5,830.2 986.5,834.3 994.5,832.0 1002.5,837.5 1010.5,843.6 1018.5,846.7 1026.5,851.0 1034.5,863.4 1042.5,867.0 1050.5,868.2 1058.5,872.1 1066.5,881.5 1074.5,869.9 1082.5,870.7 1090.5,879.2 1098.5,883.5 1106.5,886.8 1114.5,887.9 1122.5,872.3 1130.5,872.3 1138.5,870.8 1146.5,875.3 1154.5,867.7 1162.5,859.8 1170.5,859.8 1178.5,857.3 1186.5,873.5 1194.5,874.1 1202.5,873.5 1210.5,866.4 1218.5,868.6 1226.5,871.2 1234.5,879.2 1242.5,876.1 1250.5,871.1 1258.5,867.4 1266.5,869.5 1274.5,869.5 1282.5,852.8 1290.5,851.7 1298.5,848.3 1306.5,848.3 1314.5,842.5 1322.5,836.0 1330.5,835.5 1338.5,844.2 1346.5,832.9 1354.5,828.7 1362.5,822.7 1370.5,831.7 1378.5,827.6 1386.5,826.3 1394.5,825.4 1402.5,824.9" fill="none" stroke="#1e90ff" stroke-width="1" shape-rendering="crispEdges"/>
</g>
<text x="6" y="775" font-family="'Liberation Sans', Arial, sans-serif" font-size="9.8" fill="#000" text-anchor="start" font-weight="normal" textLength="68" lengthAdjust="spacingAndGlyphs" stroke="#000" stroke-width="0.2">RSI(14) 64.1119</text>
<g shape-rendering="crispEdges">
<rect x="1612" y="764" width="3" height="1" fill="#000"/>
<rect x="1612" y="798" width="3" height="1" fill="#000"/>
<rect x="1612" y="849" width="3" height="1" fill="#000"/>
<rect x="1612" y="910" width="3" height="1" fill="#000"/>
<rect x="1612" y="935" width="3" height="1" fill="#000"/>
</g>
<text x="1614.4" y="773" font-family="'Liberation Sans', Arial, sans-serif" font-size="9.9" fill="#000" text-anchor="start" font-weight="normal" textLength="15.6" lengthAdjust="spacingAndGlyphs" stroke="#000" stroke-width="0.22">100</text>
<text x="1614.4" y="802" font-family="'Liberation Sans', Arial, sans-serif" font-size="9.9" fill="#000" text-anchor="start" font-weight="normal" textLength="10.4" lengthAdjust="spacingAndGlyphs" stroke="#000" stroke-width="0.22">80</text>
<text x="1614.4" y="853" font-family="'Liberation Sans', Arial, sans-serif" font-size="9.9" fill="#000" text-anchor="start" font-weight="normal" textLength="10.4" lengthAdjust="spacingAndGlyphs" stroke="#000" stroke-width="0.22">50</text>
<text x="1614.4" y="914" font-family="'Liberation Sans', Arial, sans-serif" font-size="9.9" fill="#000" text-anchor="start" font-weight="normal" textLength="10.4" lengthAdjust="spacingAndGlyphs" stroke="#000" stroke-width="0.22">15</text>
<text x="1614.4" y="933" font-family="'Liberation Sans', Arial, sans-serif" font-size="9.9" fill="#000" text-anchor="start" font-weight="normal" textLength="5.2" lengthAdjust="spacingAndGlyphs" stroke="#000" stroke-width="0.22">0</text>
<g shape-rendering="crispEdges">
<rect x="2" y="937" width="1" height="3" fill="#000"/>
<rect x="66" y="937" width="1" height="3" fill="#000"/>
<rect x="130" y="937" width="1" height="3" fill="#000"/>
<rect x="194" y="937" width="1" height="3" fill="#000"/>
<rect x="258" y="937" width="1" height="3" fill="#000"/>
<rect x="322" y="937" width="1" height="3" fill="#000"/>
<rect x="386" y="937" width="1" height="3" fill="#000"/>
<rect x="450" y="937" width="1" height="3" fill="#000"/>
<rect x="514" y="937" width="1" height="3" fill="#000"/>
<rect x="578" y="937" width="1" height="3" fill="#000"/>
<rect x="642" y="937" width="1" height="3" fill="#000"/>
<rect x="706" y="937" width="1" height="3" fill="#000"/>
<rect x="770" y="937" width="1" height="3" fill="#000"/>
<rect x="834" y="937" width="1" height="3" fill="#000"/>
<rect x="898" y="937" width="1" height="3" fill="#000"/>
<rect x="962" y="937" width="1" height="3" fill="#000"/>
<rect x="1026" y="937" width="1" height="3" fill="#000"/>
<rect x="1090" y="937" width="1" height="3" fill="#000"/>
<rect x="1154" y="937" width="1" height="3" fill="#000"/>
<rect x="1218" y="937" width="1" height="3" fill="#000"/>
<rect x="1282" y="937" width="1" height="3" fill="#000"/>
<rect x="1346" y="937" width="1" height="3" fill="#000"/>
</g>
<text x="1.2" y="949" font-family="'Liberation Sans', Arial, sans-serif" font-size="9.9" fill="#000" text-anchor="start" font-weight="normal" textLength="53.1" lengthAdjust="spacingAndGlyphs" stroke="#000" stroke-width="0.22">25 Feb 2020</text>
<text x="65.2" y="949" font-family="'Liberation Sans', Arial, sans-serif" font-size="9.9" fill="#000" text-anchor="start" font-weight="normal" textLength="55.7" lengthAdjust="spacingAndGlyphs" stroke="#000" stroke-width="0.22">27 Feb 04:00</text>
<text x="129.2" y="949" font-family="'Liberation Sans', Arial, sans-serif" font-size="9.9" fill="#000" text-anchor="start" font-weight="normal" textLength="55.7" lengthAdjust="spacingAndGlyphs" stroke="#000" stroke-width="0.22">28 Feb 12:00</text>
<text x="193.2" y="949" font-family="'Liberation Sans', Arial, sans-serif" font-size="9.9" fill="#000" text-anchor="start" font-weight="normal" textLength="50.5" lengthAdjust="spacingAndGlyphs" stroke="#000" stroke-width="0.22">2 Mar 20:00</text>
<text x="257.2" y="949" font-family="'Liberation Sans', Arial, sans-serif" font-size="9.9" fill="#000" text-anchor="start" font-weight="normal" textLength="50.5" lengthAdjust="spacingAndGlyphs" stroke="#000" stroke-width="0.22">4 Mar 04:00</text>
<text x="321.2" y="949" font-family="'Liberation Sans', Arial, sans-serif" font-size="9.9" fill="#000" text-anchor="start" font-weight="normal" textLength="50.5" lengthAdjust="spacingAndGlyphs" stroke="#000" stroke-width="0.22">5 Mar 12:00</text>
<text x="385.2" y="949" font-family="'Liberation Sans', Arial, sans-serif" font-size="9.9" fill="#000" text-anchor="start" font-weight="normal" textLength="50.5" lengthAdjust="spacingAndGlyphs" stroke="#000" stroke-width="0.22">8 Mar 23:00</text>
<text x="449.2" y="949" font-family="'Liberation Sans', Arial, sans-serif" font-size="9.9" fill="#000" text-anchor="start" font-weight="normal" textLength="55.7" lengthAdjust="spacingAndGlyphs" stroke="#000" stroke-width="0.22">10 Mar 04:00</text>
<text x="513.2" y="949" font-family="'Liberation Sans', Arial, sans-serif" font-size="9.9" fill="#000" text-anchor="start" font-weight="normal" textLength="55.7" lengthAdjust="spacingAndGlyphs" stroke="#000" stroke-width="0.22">11 Mar 12:00</text>
<text x="577.2" y="949" font-family="'Liberation Sans', Arial, sans-serif" font-size="9.9" fill="#000" text-anchor="start" font-weight="normal" textLength="55.7" lengthAdjust="spacingAndGlyphs" stroke="#000" stroke-width="0.22">12 Mar 20:00</text>
<text x="641.2" y="949" font-family="'Liberation Sans', Arial, sans-serif" font-size="9.9" fill="#000" text-anchor="start" font-weight="normal" textLength="55.7" lengthAdjust="spacingAndGlyphs" stroke="#000" stroke-width="0.22">16 Mar 04:00</text>
<text x="705.2" y="949" font-family="'Liberation Sans', Arial, sans-serif" font-size="9.9" fill="#000" text-anchor="start" font-weight="normal" textLength="55.7" lengthAdjust="spacingAndGlyphs" stroke="#000" stroke-width="0.22">17 Mar 12:00</text>
<text x="769.2" y="949" font-family="'Liberation Sans', Arial, sans-serif" font-size="9.9" fill="#000" text-anchor="start" font-weight="normal" textLength="55.7" lengthAdjust="spacingAndGlyphs" stroke="#000" stroke-width="0.22">18 Mar 20:00</text>
<text x="833.2" y="949" font-family="'Liberation Sans', Arial, sans-serif" font-size="9.9" fill="#000" text-anchor="start" font-weight="normal" textLength="55.7" lengthAdjust="spacingAndGlyphs" stroke="#000" stroke-width="0.22">20 Mar 04:00</text>
<text x="897.2" y="949" font-family="'Liberation Sans', Arial, sans-serif" font-size="9.9" fill="#000" text-anchor="start" font-weight="normal" textLength="55.7" lengthAdjust="spacingAndGlyphs" stroke="#000" stroke-width="0.22">23 Mar 12:00</text>
<text x="961.2" y="949" font-family="'Liberation Sans', Arial, sans-serif" font-size="9.9" fill="#000" text-anchor="start" font-weight="normal" textLength="55.7" lengthAdjust="spacingAndGlyphs" stroke="#000" stroke-width="0.22">24 Mar 20:00</text>
<text x="1025.2" y="949" font-family="'Liberation Sans', Arial, sans-serif" font-size="9.9" fill="#000" text-anchor="start" font-weight="normal" textLength="55.7" lengthAdjust="spacingAndGlyphs" stroke="#000" stroke-width="0.22">26 Mar 04:00</text>
<text x="1089.2" y="949" font-family="'Liberation Sans', Arial, sans-serif" font-size="9.9" fill="#000" text-anchor="start" font-weight="normal" textLength="55.7" lengthAdjust="spacingAndGlyphs" stroke="#000" stroke-width="0.22">27 Mar 12:00</text>
<text x="1153.2" y="949" font-family="'Liberation Sans', Arial, sans-serif" font-size="9.9" fill="#000" text-anchor="start" font-weight="normal" textLength="55.7" lengthAdjust="spacingAndGlyphs" stroke="#000" stroke-width="0.22">30 Mar 20:00</text>
<text x="1217.2" y="949" font-family="'Liberation Sans', Arial, sans-serif" font-size="9.9" fill="#000" text-anchor="start" font-weight="normal" textLength="48.9" lengthAdjust="spacingAndGlyphs" stroke="#000" stroke-width="0.22">1 Apr 04:00</text>
<text x="1281.2" y="949" font-family="'Liberation Sans', Arial, sans-serif" font-size="9.9" fill="#000" text-anchor="start" font-weight="normal" textLength="48.9" lengthAdjust="spacingAndGlyphs" stroke="#000" stroke-width="0.22">2 Apr 12:00</text>
<text x="1345.2" y="949" font-family="'Liberation Sans', Arial, sans-serif" font-size="9.9" fill="#000" text-anchor="start" font-weight="normal" textLength="48.9" lengthAdjust="spacingAndGlyphs" stroke="#000" stroke-width="0.22">5 Apr 23:00</text>
</svg>
</body></html>
